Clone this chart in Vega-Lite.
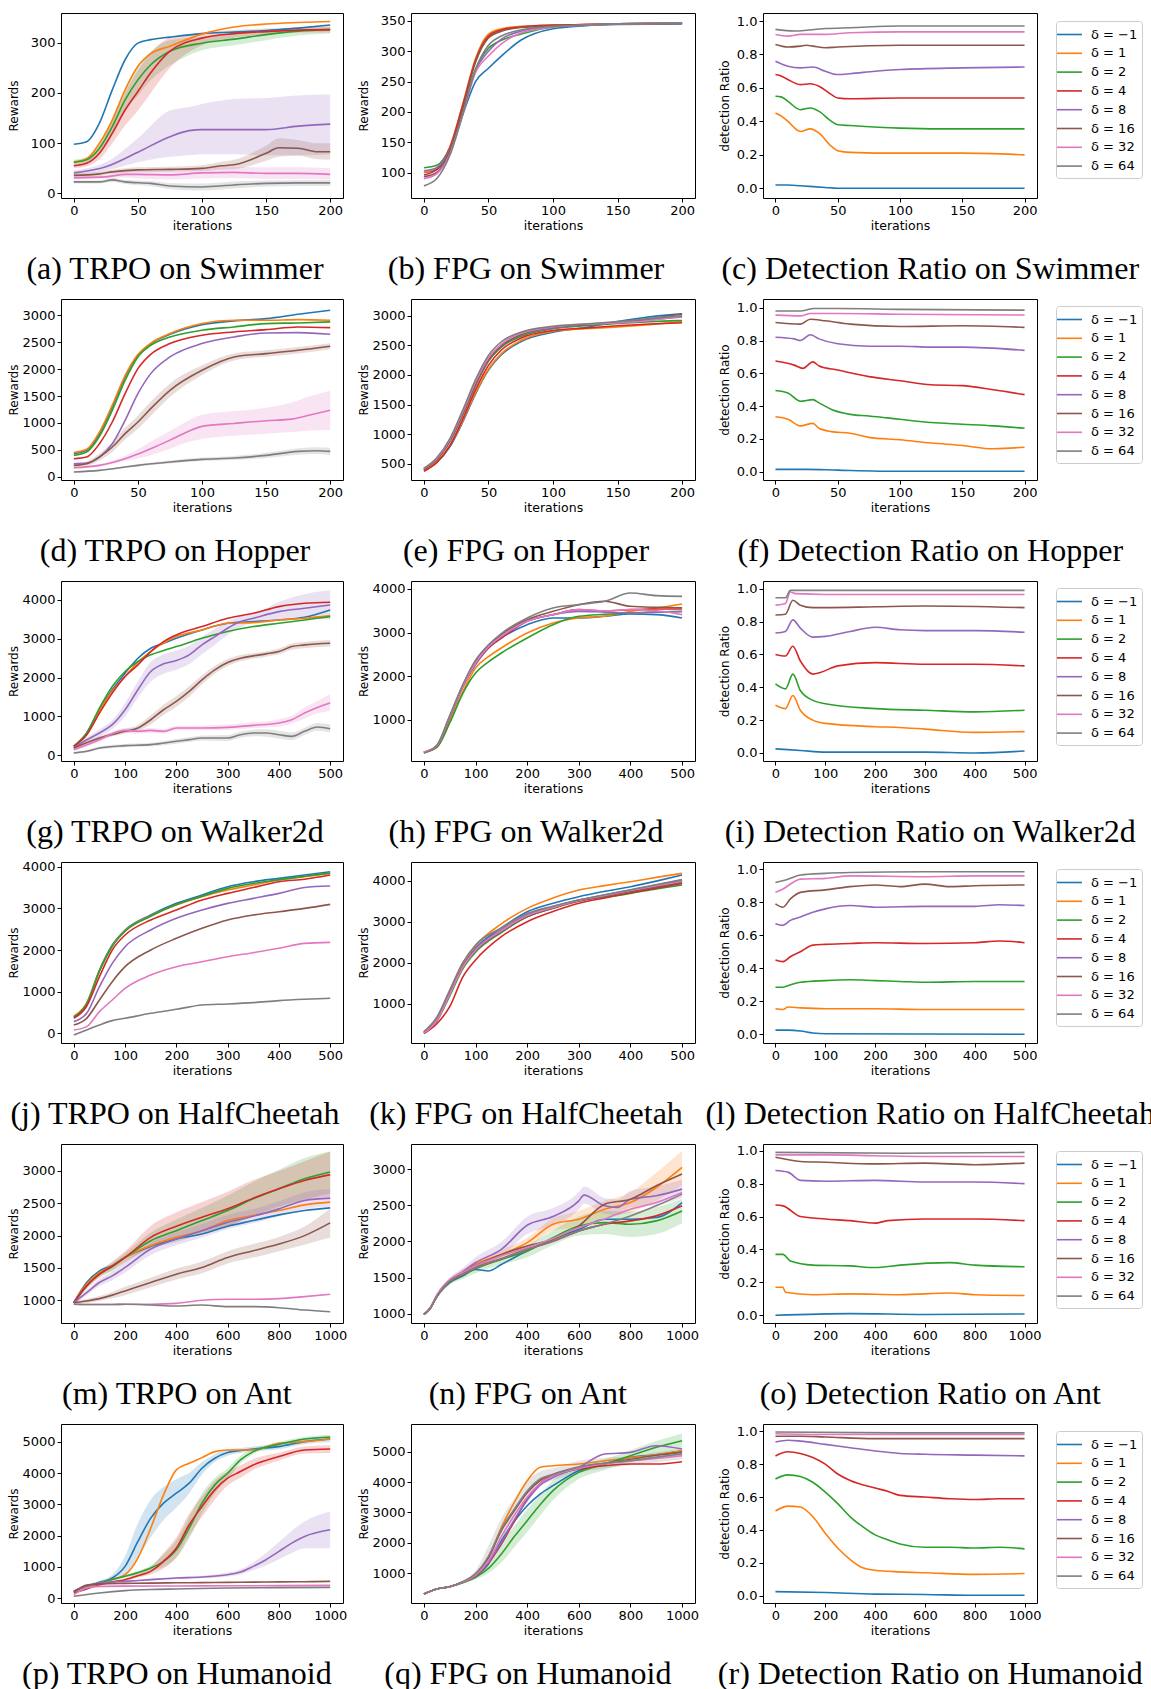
{
"$schema":"https://vega.github.io/schema/vega-lite/v6.json",
"background":"white",
"padding":{"left":6,"top":12,"right":2,"bottom":2},
"bounds":"flush",
"align":"each",
"columns":3,
"spacing":{"row":101,"column":68},
"resolve":{"scale":{"color":"independent"}},
"config":{
 "view":{"stroke":"black","strokeWidth":1},
 "font":"DejaVu Sans",
 "numberFormat":"d",
 "axis":{"grid":false,"domain":false,"ticks":true,"tickColor":"black","tickSize":4,"tickWidth":1,"labelFont":"DejaVu Sans","labelFontSize":13,"labelColor":"black","labelPadding":2,"titleFont":"DejaVu Sans","titleFontWeight":"normal","titleColor":"black","labelFlush":false,"labelOverlap":false},
 "axisY":{"titleFontSize":12,"minExtent":39,"maxExtent":39,"titlePadding":2},
 "axisX":{"titleFontSize":12.5,"titlePadding":2},
 "title":{"orient":"bottom","font":"Liberation Serif","fontSize":32,"fontWeight":"normal","color":"black","offset":22,"frame":"bounds","anchor":"middle"},
 "legend":{"labelFont":"DejaVu Sans","labelFontSize":13,"labelColor":"black","symbolType":"M-1.5,0H1.5","symbolSize":278,"symbolStrokeWidth":2,"labelOffset":12,"rowPadding":1.8,"padding":4,"strokeColor":"#cccccc","cornerRadius":3,"fillColor":"white"},
 "range":{"category":["#1f77b4","#ff7f0e","#2ca02c","#d62728","#9467bd","#8c564b","#e377c2","#7f7f7f"]},
 "line":{"strokeWidth":1.6,"interpolate":"monotone"},
 "area":{"opacity":0.2,"interpolate":"monotone"}
},
"datasets":{
"a":[
{"s":-1,"x":0,"y":98},{"s":-1,"x":10,"y":103},{"s":-1,"x":20,"y":140},{"s":-1,"x":30,"y":206},{"s":-1,"x":40,"y":266},{"s":-1,"x":50,"y":299},{"s":-1,"x":60,"y":306},{"s":-1,"x":75,"y":311},{"s":-1,"x":100,"y":318},{"s":-1,"x":125,"y":321},{"s":-1,"x":150,"y":324},{"s":-1,"x":175,"y":329},{"s":-1,"x":200,"y":335},
{"s":1,"x":0,"y":63},{"s":1,"x":10,"y":69},{"s":1,"x":20,"y":100},{"s":1,"x":30,"y":146},{"s":1,"x":40,"y":206},{"s":1,"x":50,"y":253},{"s":1,"x":60,"y":278},{"s":1,"x":75,"y":293},{"s":1,"x":100,"y":317},{"s":1,"x":125,"y":331},{"s":1,"x":150,"y":337},{"s":1,"x":175,"y":340},{"s":1,"x":200,"y":342},
{"s":2,"x":0,"y":62,"l":57,"h":67},{"s":2,"x":10,"y":67,"l":61,"h":73},{"s":2,"x":20,"y":90,"l":80,"h":100},{"s":2,"x":30,"y":133,"l":115,"h":150},{"s":2,"x":40,"y":186,"l":165,"h":210},{"s":2,"x":50,"y":226,"l":195,"h":255},{"s":2,"x":60,"y":256,"l":225,"h":283},{"s":2,"x":75,"y":283,"l":255,"h":305},{"s":2,"x":100,"y":299,"l":285,"h":312},{"s":2,"x":125,"y":307,"l":295,"h":318},{"s":2,"x":150,"y":316,"l":305,"h":325},{"s":2,"x":175,"y":323,"l":314,"h":330},{"s":2,"x":200,"y":326,"l":318,"h":333},
{"s":4,"x":0,"y":55,"l":50,"h":60},{"s":4,"x":10,"y":60,"l":54,"h":66},{"s":4,"x":20,"y":80,"l":68,"h":95},{"s":4,"x":30,"y":120,"l":100,"h":145},{"s":4,"x":40,"y":166,"l":135,"h":200},{"s":4,"x":50,"y":203,"l":165,"h":245},{"s":4,"x":60,"y":240,"l":200,"h":280},{"s":4,"x":75,"y":283,"l":250,"h":310},{"s":4,"x":100,"y":309,"l":295,"h":320},{"s":4,"x":125,"y":318,"l":310,"h":325},{"s":4,"x":150,"y":322,"l":316,"h":328},{"s":4,"x":175,"y":325,"l":320,"h":330},{"s":4,"x":200,"y":326,"l":320,"h":331},
{"s":8,"x":0,"y":41,"l":36,"h":46},{"s":8,"x":25,"y":53,"l":45,"h":62},{"s":8,"x":50,"y":82,"l":62,"h":110},{"s":8,"x":75,"y":113,"l":73,"h":165},{"s":8,"x":90,"y":125,"l":76,"h":172},{"s":8,"x":100,"y":127,"l":78,"h":178},{"s":8,"x":125,"y":127,"l":78,"h":188},{"s":8,"x":150,"y":127,"l":76,"h":190},{"s":8,"x":175,"y":134,"l":76,"h":195},{"s":8,"x":200,"y":138,"l":78,"h":197},
{"s":16,"x":0,"y":36,"l":32,"h":40},{"s":16,"x":20,"y":39,"l":35,"h":43},{"s":16,"x":30,"y":43,"l":39,"h":47},{"s":16,"x":50,"y":47,"l":42,"h":52},{"s":16,"x":75,"y":48,"l":43,"h":53},{"s":16,"x":100,"y":50,"l":44,"h":56},{"s":16,"x":115,"y":55,"l":47,"h":63},{"s":16,"x":125,"y":57,"l":48,"h":67},{"s":16,"x":150,"y":80,"l":65,"h":95},{"s":16,"x":160,"y":91,"l":73,"h":110},{"s":16,"x":175,"y":90,"l":75,"h":106},{"s":16,"x":190,"y":83,"l":68,"h":100},{"s":16,"x":200,"y":83,"l":67,"h":100},
{"s":32,"x":0,"y":31,"l":28,"h":34},{"s":32,"x":25,"y":33,"l":30,"h":37},{"s":32,"x":40,"y":38,"l":32,"h":45},{"s":32,"x":50,"y":38,"l":30,"h":48},{"s":32,"x":75,"y":37,"l":28,"h":48},{"s":32,"x":100,"y":41,"l":30,"h":52},{"s":32,"x":125,"y":42,"l":31,"h":53},{"s":32,"x":150,"y":40,"l":29,"h":52},{"s":32,"x":175,"y":40,"l":29,"h":52},{"s":32,"x":200,"y":38,"l":28,"h":50},
{"s":64,"x":0,"y":23,"l":20,"h":26},{"s":64,"x":20,"y":23,"l":20,"h":26},{"s":64,"x":30,"y":27,"l":23,"h":31},{"s":64,"x":40,"y":23,"l":19,"h":27},{"s":64,"x":60,"y":20,"l":15,"h":25},{"s":64,"x":75,"y":15,"l":9,"h":21},{"s":64,"x":100,"y":13,"l":6,"h":20},{"s":64,"x":125,"y":17,"l":10,"h":24},{"s":64,"x":150,"y":20,"l":14,"h":26},{"s":64,"x":175,"y":21,"l":15,"h":27},{"s":64,"x":200,"y":21,"l":15,"h":27}
],
"b":[
{"s":-1,"x":0,"y":100},{"s":-1,"x":10,"y":105},{"s":-1,"x":20,"y":135},{"s":-1,"x":30,"y":195},{"s":-1,"x":40,"y":250},{"s":-1,"x":50,"y":272},{"s":-1,"x":60,"y":292},{"s":-1,"x":75,"y":318},{"s":-1,"x":100,"y":337},{"s":-1,"x":125,"y":342},{"s":-1,"x":150,"y":344},{"s":-1,"x":200,"y":345},
{"s":1,"x":0,"y":100},{"s":1,"x":10,"y":108},{"s":1,"x":20,"y":142},{"s":1,"x":30,"y":212},{"s":1,"x":40,"y":288},{"s":1,"x":50,"y":328},{"s":1,"x":60,"y":337},{"s":1,"x":75,"y":341},{"s":1,"x":100,"y":343},{"s":1,"x":125,"y":344},{"s":1,"x":150,"y":345},{"s":1,"x":200,"y":347},
{"s":2,"x":0,"y":108},{"s":2,"x":10,"y":112},{"s":2,"x":20,"y":140},{"s":2,"x":30,"y":200},{"s":2,"x":40,"y":270},{"s":2,"x":50,"y":305},{"s":2,"x":60,"y":318},{"s":2,"x":75,"y":328},{"s":2,"x":100,"y":340},{"s":2,"x":125,"y":343},{"s":2,"x":150,"y":345},{"s":2,"x":200,"y":346},
{"s":4,"x":0,"y":96},{"s":4,"x":10,"y":105},{"s":4,"x":20,"y":140},{"s":4,"x":30,"y":210},{"s":4,"x":40,"y":285},{"s":4,"x":50,"y":325},{"s":4,"x":60,"y":335},{"s":4,"x":75,"y":340},{"s":4,"x":100,"y":343},{"s":4,"x":125,"y":344},{"s":4,"x":150,"y":345},{"s":4,"x":200,"y":346},
{"s":8,"x":0,"y":103},{"s":8,"x":10,"y":108},{"s":8,"x":20,"y":138},{"s":8,"x":30,"y":200},{"s":8,"x":40,"y":268},{"s":8,"x":50,"y":300},{"s":8,"x":60,"y":320},{"s":8,"x":75,"y":333},{"s":8,"x":100,"y":341},{"s":8,"x":125,"y":343},{"s":8,"x":150,"y":345},{"s":8,"x":200,"y":346},
{"s":16,"x":0,"y":93},{"s":16,"x":10,"y":100},{"s":16,"x":20,"y":135},{"s":16,"x":30,"y":205},{"s":16,"x":40,"y":282},{"s":16,"x":50,"y":322},{"s":16,"x":60,"y":333},{"s":16,"x":75,"y":339},{"s":16,"x":100,"y":342},{"s":16,"x":125,"y":344},{"s":16,"x":150,"y":345},{"s":16,"x":200,"y":346},
{"s":32,"x":0,"y":90},{"s":32,"x":10,"y":98},{"s":32,"x":20,"y":130},{"s":32,"x":30,"y":195},{"s":32,"x":40,"y":265},{"s":32,"x":50,"y":292},{"s":32,"x":60,"y":312},{"s":32,"x":75,"y":330},{"s":32,"x":100,"y":340},{"s":32,"x":125,"y":343},{"s":32,"x":150,"y":345},{"s":32,"x":200,"y":346},
{"s":64,"x":0,"y":78},{"s":64,"x":10,"y":90},{"s":64,"x":20,"y":128},{"s":64,"x":30,"y":195},{"s":64,"x":40,"y":270},{"s":64,"x":50,"y":310},{"s":64,"x":60,"y":325},{"s":64,"x":75,"y":335},{"s":64,"x":100,"y":341},{"s":64,"x":125,"y":343},{"s":64,"x":150,"y":345},{"s":64,"x":200,"y":346}
],
"c":[
{"s":-1,"x":0,"y":0.02},{"s":-1,"x":10,"y":0.02},{"s":-1,"x":20,"y":0.015},{"s":-1,"x":40,"y":0.005},{"s":-1,"x":50,"y":0},{"s":-1,"x":100,"y":0},{"s":-1,"x":200,"y":0},
{"s":1,"x":0,"y":0.45},{"s":1,"x":5,"y":0.43},{"s":1,"x":10,"y":0.4},{"s":1,"x":20,"y":0.34},{"s":1,"x":28,"y":0.355},{"s":1,"x":35,"y":0.33},{"s":1,"x":45,"y":0.25},{"s":1,"x":50,"y":0.225},{"s":1,"x":60,"y":0.215},{"s":1,"x":100,"y":0.21},{"s":1,"x":150,"y":0.21},{"s":1,"x":200,"y":0.2},
{"s":2,"x":0,"y":0.55},{"s":2,"x":5,"y":0.545},{"s":2,"x":10,"y":0.52},{"s":2,"x":20,"y":0.47},{"s":2,"x":28,"y":0.48},{"s":2,"x":35,"y":0.46},{"s":2,"x":45,"y":0.4},{"s":2,"x":50,"y":0.38},{"s":2,"x":60,"y":0.375},{"s":2,"x":100,"y":0.36},{"s":2,"x":150,"y":0.355},{"s":2,"x":200,"y":0.355},
{"s":4,"x":0,"y":0.68},{"s":4,"x":5,"y":0.67},{"s":4,"x":10,"y":0.65},{"s":4,"x":20,"y":0.62},{"s":4,"x":28,"y":0.625},{"s":4,"x":35,"y":0.61},{"s":4,"x":45,"y":0.56},{"s":4,"x":50,"y":0.54},{"s":4,"x":60,"y":0.535},{"s":4,"x":100,"y":0.54},{"s":4,"x":150,"y":0.54},{"s":4,"x":200,"y":0.54},
{"s":8,"x":0,"y":0.76},{"s":8,"x":10,"y":0.73},{"s":8,"x":20,"y":0.72},{"s":8,"x":30,"y":0.725},{"s":8,"x":40,"y":0.7},{"s":8,"x":50,"y":0.68},{"s":8,"x":60,"y":0.685},{"s":8,"x":80,"y":0.7},{"s":8,"x":100,"y":0.71},{"s":8,"x":150,"y":0.72},{"s":8,"x":200,"y":0.725},
{"s":16,"x":0,"y":0.86},{"s":16,"x":10,"y":0.845},{"s":16,"x":20,"y":0.85},{"s":16,"x":25,"y":0.855},{"s":16,"x":30,"y":0.85},{"s":16,"x":40,"y":0.84},{"s":16,"x":50,"y":0.845},{"s":16,"x":100,"y":0.855},{"s":16,"x":200,"y":0.855},
{"s":32,"x":0,"y":0.92},{"s":32,"x":10,"y":0.91},{"s":32,"x":20,"y":0.92},{"s":32,"x":40,"y":0.92},{"s":32,"x":60,"y":0.93},{"s":32,"x":100,"y":0.935},{"s":32,"x":200,"y":0.935},
{"s":64,"x":0,"y":0.95},{"s":64,"x":15,"y":0.94},{"s":64,"x":40,"y":0.955},{"s":64,"x":60,"y":0.96},{"s":64,"x":100,"y":0.97},{"s":64,"x":200,"y":0.97}
],
"d":[
{"s":-1,"x":0,"y":430},{"s":-1,"x":10,"y":490},{"s":-1,"x":20,"y":800},{"s":-1,"x":30,"y":1296},{"s":-1,"x":40,"y":1854},{"s":-1,"x":50,"y":2257},{"s":-1,"x":60,"y":2474},{"s":-1,"x":75,"y":2647},{"s":-1,"x":100,"y":2827},{"s":-1,"x":125,"y":2895},{"s":-1,"x":150,"y":2939},{"s":-1,"x":175,"y":3019},{"s":-1,"x":200,"y":3094},
{"s":1,"x":0,"y":450},{"s":1,"x":10,"y":510},{"s":1,"x":20,"y":830},{"s":1,"x":30,"y":1330},{"s":1,"x":40,"y":1880},{"s":1,"x":50,"y":2270},{"s":1,"x":60,"y":2480},{"s":1,"x":75,"y":2660},{"s":1,"x":100,"y":2846},{"s":1,"x":125,"y":2908},{"s":1,"x":150,"y":2908},{"s":1,"x":175,"y":2920},{"s":1,"x":200,"y":2908},
{"s":2,"x":0,"y":397},{"s":2,"x":10,"y":460},{"s":2,"x":20,"y":750},{"s":2,"x":30,"y":1234},{"s":2,"x":40,"y":1792},{"s":2,"x":50,"y":2226},{"s":2,"x":60,"y":2443},{"s":2,"x":75,"y":2598},{"s":2,"x":100,"y":2722},{"s":2,"x":125,"y":2784},{"s":2,"x":150,"y":2846},{"s":2,"x":175,"y":2858},{"s":2,"x":200,"y":2877},
{"s":4,"x":0,"y":335},{"s":4,"x":10,"y":366},{"s":4,"x":20,"y":614},{"s":4,"x":30,"y":1017},{"s":4,"x":40,"y":1544},{"s":4,"x":50,"y":2009},{"s":4,"x":60,"y":2275},{"s":4,"x":75,"y":2474},{"s":4,"x":100,"y":2629},{"s":4,"x":125,"y":2691},{"s":4,"x":150,"y":2734},{"s":4,"x":175,"y":2784},{"s":4,"x":200,"y":2771},
{"s":8,"x":0,"y":242},{"s":8,"x":10,"y":254},{"s":8,"x":20,"y":366},{"s":8,"x":30,"y":614},{"s":8,"x":40,"y":1048},{"s":8,"x":50,"y":1544},{"s":8,"x":60,"y":1916},{"s":8,"x":75,"y":2226},{"s":8,"x":100,"y":2474},{"s":8,"x":125,"y":2598},{"s":8,"x":150,"y":2672},{"s":8,"x":175,"y":2678},{"s":8,"x":200,"y":2647},
{"s":16,"x":0,"y":211,"l":180,"h":240},{"s":16,"x":10,"y":242,"l":200,"h":285},{"s":16,"x":20,"y":366,"l":300,"h":430},{"s":16,"x":30,"y":552,"l":460,"h":640},{"s":16,"x":40,"y":800,"l":690,"h":910},{"s":16,"x":50,"y":1017,"l":890,"h":1140},{"s":16,"x":60,"y":1265,"l":1130,"h":1400},{"s":16,"x":75,"y":1606,"l":1480,"h":1730},{"s":16,"x":100,"y":1978,"l":1890,"h":2070},{"s":16,"x":125,"y":2226,"l":2160,"h":2290},{"s":16,"x":150,"y":2288,"l":2230,"h":2350},{"s":16,"x":175,"y":2350,"l":2290,"h":2410},{"s":16,"x":200,"y":2424,"l":2370,"h":2480},
{"s":32,"x":0,"y":167,"l":150,"h":185},{"s":32,"x":20,"y":211,"l":190,"h":235},{"s":32,"x":40,"y":335,"l":290,"h":390},{"s":32,"x":50,"y":420,"l":340,"h":510},{"s":32,"x":60,"y":520,"l":400,"h":650},{"s":32,"x":75,"y":680,"l":520,"h":850},{"s":32,"x":90,"y":850,"l":650,"h":1050},{"s":32,"x":100,"y":936,"l":700,"h":1150},{"s":32,"x":125,"y":990,"l":760,"h":1220},{"s":32,"x":150,"y":1040,"l":800,"h":1280},{"s":32,"x":170,"y":1070,"l":830,"h":1380},{"s":32,"x":185,"y":1150,"l":860,"h":1500},{"s":32,"x":200,"y":1234,"l":870,"h":1600},
{"s":64,"x":0,"y":87,"l":75,"h":100},{"s":64,"x":20,"y":118,"l":105,"h":130},{"s":64,"x":40,"y":180,"l":160,"h":200},{"s":64,"x":50,"y":211,"l":190,"h":232},{"s":64,"x":75,"y":273,"l":245,"h":300},{"s":64,"x":100,"y":322,"l":290,"h":355},{"s":64,"x":125,"y":347,"l":310,"h":385},{"s":64,"x":150,"y":397,"l":350,"h":445},{"s":64,"x":175,"y":471,"l":410,"h":530},{"s":64,"x":190,"y":484,"l":420,"h":550},{"s":64,"x":200,"y":471,"l":400,"h":540}
],
"e":[
{"s":-1,"x":0,"y":380},{"s":-1,"x":10,"y":520},{"s":-1,"x":20,"y":780},{"s":-1,"x":30,"y":1200},{"s":-1,"x":40,"y":1680},{"s":-1,"x":50,"y":2080},{"s":-1,"x":60,"y":2340},{"s":-1,"x":75,"y":2560},{"s":-1,"x":100,"y":2720},{"s":-1,"x":125,"y":2800},{"s":-1,"x":150,"y":2900},{"s":-1,"x":175,"y":2980},{"s":-1,"x":200,"y":3030},
{"s":1,"x":0,"y":390},{"s":1,"x":10,"y":530},{"s":1,"x":20,"y":800},{"s":1,"x":30,"y":1220},{"s":1,"x":40,"y":1700},{"s":1,"x":50,"y":2100},{"s":1,"x":60,"y":2360},{"s":1,"x":75,"y":2580},{"s":1,"x":100,"y":2740},{"s":1,"x":125,"y":2780},{"s":1,"x":150,"y":2810},{"s":1,"x":175,"y":2850},{"s":1,"x":200,"y":2900},
{"s":2,"x":0,"y":410},{"s":2,"x":10,"y":570},{"s":2,"x":20,"y":870},{"s":2,"x":30,"y":1320},{"s":2,"x":40,"y":1820},{"s":2,"x":50,"y":2230},{"s":2,"x":60,"y":2470},{"s":2,"x":75,"y":2650},{"s":2,"x":100,"y":2780},{"s":2,"x":125,"y":2830},{"s":2,"x":150,"y":2870},{"s":2,"x":175,"y":2900},{"s":2,"x":200,"y":2920},
{"s":4,"x":0,"y":370},{"s":4,"x":10,"y":520},{"s":4,"x":20,"y":800},{"s":4,"x":30,"y":1250},{"s":4,"x":40,"y":1750},{"s":4,"x":50,"y":2160},{"s":4,"x":60,"y":2420},{"s":4,"x":75,"y":2620},{"s":4,"x":100,"y":2750},{"s":4,"x":125,"y":2790},{"s":4,"x":150,"y":2830},{"s":4,"x":175,"y":2860},{"s":4,"x":200,"y":2880},
{"s":8,"x":0,"y":410},{"s":8,"x":10,"y":580},{"s":8,"x":20,"y":880},{"s":8,"x":30,"y":1340},{"s":8,"x":40,"y":1840},{"s":8,"x":50,"y":2250},{"s":8,"x":60,"y":2490},{"s":8,"x":75,"y":2680},{"s":8,"x":100,"y":2790},{"s":8,"x":125,"y":2850},{"s":8,"x":150,"y":2880},{"s":8,"x":175,"y":2930},{"s":8,"x":200,"y":2980},
{"s":16,"x":0,"y":400},{"s":16,"x":10,"y":570},{"s":16,"x":20,"y":880},{"s":16,"x":30,"y":1340},{"s":16,"x":40,"y":1850},{"s":16,"x":50,"y":2250},{"s":16,"x":60,"y":2490},{"s":16,"x":75,"y":2680},{"s":16,"x":100,"y":2800},{"s":16,"x":125,"y":2850},{"s":16,"x":150,"y":2890},{"s":16,"x":175,"y":2950},{"s":16,"x":200,"y":3030},
{"s":32,"x":0,"y":420},{"s":32,"x":10,"y":590},{"s":32,"x":20,"y":900},{"s":32,"x":30,"y":1370},{"s":32,"x":40,"y":1880},{"s":32,"x":50,"y":2290},{"s":32,"x":60,"y":2520},{"s":32,"x":75,"y":2700},{"s":32,"x":100,"y":2810},{"s":32,"x":125,"y":2860},{"s":32,"x":150,"y":2880},{"s":32,"x":175,"y":2920},{"s":32,"x":200,"y":2990},
{"s":64,"x":0,"y":420},{"s":64,"x":10,"y":600},{"s":64,"x":20,"y":920},{"s":64,"x":30,"y":1400},{"s":64,"x":40,"y":1920},{"s":64,"x":50,"y":2330},{"s":64,"x":60,"y":2560},{"s":64,"x":75,"y":2720},{"s":64,"x":100,"y":2820},{"s":64,"x":125,"y":2860},{"s":64,"x":150,"y":2900},{"s":64,"x":175,"y":2950},{"s":64,"x":200,"y":3000}
],
"f":[
{"s":-1,"x":0,"y":0.015},{"s":-1,"x":25,"y":0.015},{"s":-1,"x":50,"y":0.01},{"s":-1,"x":100,"y":0.003},{"s":-1,"x":200,"y":0.003},
{"s":1,"x":0,"y":0.335},{"s":1,"x":10,"y":0.32},{"s":1,"x":20,"y":0.28},{"s":1,"x":30,"y":0.295},{"s":1,"x":35,"y":0.265},{"s":1,"x":45,"y":0.245},{"s":1,"x":60,"y":0.235},{"s":1,"x":75,"y":0.21},{"s":1,"x":100,"y":0.195},{"s":1,"x":125,"y":0.175},{"s":1,"x":150,"y":0.16},{"s":1,"x":175,"y":0.14},{"s":1,"x":200,"y":0.15},
{"s":2,"x":0,"y":0.495},{"s":2,"x":10,"y":0.48},{"s":2,"x":20,"y":0.43},{"s":2,"x":30,"y":0.44},{"s":2,"x":35,"y":0.42},{"s":2,"x":45,"y":0.38},{"s":2,"x":60,"y":0.35},{"s":2,"x":75,"y":0.34},{"s":2,"x":100,"y":0.32},{"s":2,"x":125,"y":0.3},{"s":2,"x":150,"y":0.29},{"s":2,"x":175,"y":0.28},{"s":2,"x":200,"y":0.265},
{"s":4,"x":0,"y":0.675},{"s":4,"x":15,"y":0.65},{"s":4,"x":22,"y":0.63},{"s":4,"x":30,"y":0.67},{"s":4,"x":35,"y":0.645},{"s":4,"x":50,"y":0.62},{"s":4,"x":75,"y":0.58},{"s":4,"x":100,"y":0.555},{"s":4,"x":125,"y":0.53},{"s":4,"x":150,"y":0.525},{"s":4,"x":175,"y":0.5},{"s":4,"x":200,"y":0.47},
{"s":8,"x":0,"y":0.82},{"s":8,"x":15,"y":0.81},{"s":8,"x":20,"y":0.8},{"s":8,"x":28,"y":0.835},{"s":8,"x":35,"y":0.81},{"s":8,"x":50,"y":0.78},{"s":8,"x":75,"y":0.765},{"s":8,"x":100,"y":0.765},{"s":8,"x":125,"y":0.76},{"s":8,"x":150,"y":0.76},{"s":8,"x":200,"y":0.74},
{"s":16,"x":0,"y":0.91},{"s":16,"x":20,"y":0.9},{"s":16,"x":28,"y":0.93},{"s":16,"x":40,"y":0.92},{"s":16,"x":60,"y":0.9},{"s":16,"x":100,"y":0.885},{"s":16,"x":150,"y":0.89},{"s":16,"x":200,"y":0.88},
{"s":32,"x":0,"y":0.955},{"s":32,"x":20,"y":0.95},{"s":32,"x":28,"y":0.965},{"s":32,"x":50,"y":0.965},{"s":32,"x":100,"y":0.96},{"s":32,"x":200,"y":0.955},
{"s":64,"x":0,"y":0.98},{"s":64,"x":20,"y":0.98},{"s":64,"x":27,"y":0.99},{"s":64,"x":30,"y":0.995},{"s":64,"x":50,"y":0.995},{"s":64,"x":100,"y":0.99},{"s":64,"x":200,"y":0.985}
],
"g":[
{"s":-1,"x":0,"y":231},{"s":-1,"x":25,"y":574},{"s":-1,"x":50,"y":1173},{"s":-1,"x":75,"y":1687},{"s":-1,"x":100,"y":2116},{"s":-1,"x":125,"y":2500},{"s":-1,"x":150,"y":2758},{"s":-1,"x":175,"y":2886},{"s":-1,"x":200,"y":3015},{"s":-1,"x":250,"y":3229},{"s":-1,"x":300,"y":3400},{"s":-1,"x":350,"y":3443},{"s":-1,"x":400,"y":3486},{"s":-1,"x":450,"y":3554},{"s":-1,"x":500,"y":3743},
{"s":1,"x":0,"y":231},{"s":1,"x":25,"y":560},{"s":1,"x":50,"y":1150},{"s":1,"x":75,"y":1650},{"s":1,"x":100,"y":2030},{"s":1,"x":125,"y":2400},{"s":1,"x":150,"y":2672},{"s":1,"x":175,"y":2900},{"s":1,"x":200,"y":3058},{"s":1,"x":250,"y":3229},{"s":1,"x":300,"y":3400},{"s":1,"x":350,"y":3417},{"s":1,"x":400,"y":3486},{"s":1,"x":450,"y":3529},{"s":1,"x":500,"y":3597},
{"s":2,"x":0,"y":231},{"s":2,"x":25,"y":570},{"s":2,"x":50,"y":1216},{"s":2,"x":75,"y":1773},{"s":2,"x":100,"y":2158},{"s":2,"x":125,"y":2415},{"s":2,"x":150,"y":2587},{"s":2,"x":175,"y":2700},{"s":2,"x":200,"y":2800},{"s":2,"x":250,"y":3015},{"s":2,"x":300,"y":3186},{"s":2,"x":350,"y":3315},{"s":2,"x":400,"y":3400},{"s":2,"x":450,"y":3486},{"s":2,"x":500,"y":3572},
{"s":4,"x":0,"y":231},{"s":4,"x":25,"y":520},{"s":4,"x":50,"y":1088},{"s":4,"x":75,"y":1602},{"s":4,"x":100,"y":2030},{"s":4,"x":125,"y":2330},{"s":4,"x":150,"y":2672},{"s":4,"x":175,"y":2929},{"s":4,"x":200,"y":3100},{"s":4,"x":250,"y":3315},{"s":4,"x":300,"y":3529},{"s":4,"x":350,"y":3657},{"s":4,"x":400,"y":3829},{"s":4,"x":450,"y":3914},{"s":4,"x":500,"y":3940},
{"s":8,"x":0,"y":188,"l":150,"h":230},{"s":8,"x":25,"y":400,"l":340,"h":460},{"s":8,"x":50,"y":574,"l":480,"h":670},{"s":8,"x":75,"y":788,"l":680,"h":900},{"s":8,"x":100,"y":1173,"l":1000,"h":1350},{"s":8,"x":125,"y":1687,"l":1480,"h":1900},{"s":8,"x":150,"y":2158,"l":1900,"h":2400},{"s":8,"x":175,"y":2355,"l":2100,"h":2600},{"s":8,"x":200,"y":2441,"l":2200,"h":2700},{"s":8,"x":225,"y":2587,"l":2350,"h":2820},{"s":8,"x":250,"y":2844,"l":2600,"h":3050},{"s":8,"x":275,"y":3058,"l":2850,"h":3260},{"s":8,"x":300,"y":3272,"l":3100,"h":3450},{"s":8,"x":325,"y":3443,"l":3300,"h":3580},{"s":8,"x":350,"y":3529,"l":3420,"h":3640},{"s":8,"x":400,"y":3700,"l":3500,"h":3950},{"s":8,"x":450,"y":3786,"l":3520,"h":4150},{"s":8,"x":500,"y":3871,"l":3490,"h":4250},
{"s":16,"x":0,"y":188,"l":150,"h":230},{"s":16,"x":50,"y":445,"l":400,"h":490},{"s":16,"x":100,"y":617,"l":560,"h":680},{"s":16,"x":125,"y":702,"l":630,"h":780},{"s":16,"x":150,"y":916,"l":800,"h":1030},{"s":16,"x":175,"y":1173,"l":1040,"h":1300},{"s":16,"x":200,"y":1388,"l":1250,"h":1530},{"s":16,"x":225,"y":1644,"l":1510,"h":1780},{"s":16,"x":250,"y":1944,"l":1830,"h":2060},{"s":16,"x":275,"y":2201,"l":2100,"h":2300},{"s":16,"x":300,"y":2390,"l":2300,"h":2480},{"s":16,"x":325,"y":2500,"l":2420,"h":2580},{"s":16,"x":350,"y":2561,"l":2490,"h":2630},{"s":16,"x":375,"y":2612,"l":2540,"h":2680},{"s":16,"x":400,"y":2672,"l":2600,"h":2750},{"s":16,"x":425,"y":2800,"l":2720,"h":2880},{"s":16,"x":450,"y":2844,"l":2760,"h":2920},{"s":16,"x":500,"y":2886,"l":2800,"h":2970},
{"s":32,"x":0,"y":146,"l":110,"h":180},{"s":32,"x":50,"y":403,"l":350,"h":450},{"s":32,"x":75,"y":557,"l":500,"h":610},{"s":32,"x":100,"y":642,"l":580,"h":700},{"s":32,"x":125,"y":617,"l":560,"h":680},{"s":32,"x":150,"y":642,"l":580,"h":700},{"s":32,"x":175,"y":617,"l":560,"h":680},{"s":32,"x":200,"y":702,"l":640,"h":760},{"s":32,"x":250,"y":702,"l":640,"h":770},{"s":32,"x":300,"y":719,"l":650,"h":790},{"s":32,"x":350,"y":771,"l":700,"h":850},{"s":32,"x":400,"y":831,"l":740,"h":930},{"s":32,"x":425,"y":916,"l":820,"h":1020},{"s":32,"x":450,"y":1088,"l":950,"h":1230},{"s":32,"x":475,"y":1233,"l":1080,"h":1400},{"s":32,"x":500,"y":1345,"l":1150,"h":1580},
{"s":64,"x":0,"y":60,"l":30,"h":90},{"s":64,"x":25,"y":103,"l":70,"h":135},{"s":64,"x":50,"y":188,"l":150,"h":225},{"s":64,"x":100,"y":248,"l":210,"h":290},{"s":64,"x":150,"y":274,"l":230,"h":320},{"s":64,"x":200,"y":360,"l":300,"h":420},{"s":64,"x":225,"y":403,"l":340,"h":465},{"s":64,"x":250,"y":445,"l":380,"h":510},{"s":64,"x":300,"y":445,"l":370,"h":520},{"s":64,"x":325,"y":531,"l":450,"h":610},{"s":64,"x":350,"y":574,"l":490,"h":660},{"s":64,"x":375,"y":574,"l":480,"h":670},{"s":64,"x":400,"y":531,"l":430,"h":630},{"s":64,"x":425,"y":488,"l":390,"h":590},{"s":64,"x":450,"y":617,"l":520,"h":710},{"s":64,"x":475,"y":728,"l":630,"h":830},{"s":64,"x":500,"y":685,"l":580,"h":790}
],
"h":[
{"s":-1,"x":0,"y":259},{"s":-1,"x":25,"y":400},{"s":-1,"x":50,"y":1060},{"s":-1,"x":75,"y":1760},{"s":-1,"x":100,"y":2267},{"s":-1,"x":125,"y":2650},{"s":-1,"x":150,"y":2878},{"s":-1,"x":200,"y":3183},{"s":-1,"x":250,"y":3336},{"s":-1,"x":300,"y":3336},{"s":-1,"x":350,"y":3374},{"s":-1,"x":400,"y":3427},{"s":-1,"x":450,"y":3412},{"s":-1,"x":500,"y":3336},
{"s":1,"x":0,"y":259},{"s":1,"x":25,"y":380},{"s":1,"x":50,"y":960},{"s":1,"x":75,"y":1640},{"s":1,"x":100,"y":2190},{"s":1,"x":125,"y":2450},{"s":1,"x":150,"y":2649},{"s":1,"x":200,"y":2992},{"s":1,"x":250,"y":3221},{"s":1,"x":300,"y":3336},{"s":1,"x":350,"y":3374},{"s":1,"x":400,"y":3490},{"s":1,"x":450,"y":3565},{"s":1,"x":500,"y":3656},
{"s":2,"x":0,"y":259},{"s":2,"x":25,"y":370},{"s":2,"x":50,"y":930},{"s":2,"x":75,"y":1600},{"s":2,"x":100,"y":2076},{"s":2,"x":125,"y":2330},{"s":2,"x":150,"y":2534},{"s":2,"x":200,"y":2878},{"s":2,"x":250,"y":3183},{"s":2,"x":300,"y":3374},{"s":2,"x":350,"y":3420},{"s":2,"x":400,"y":3450},{"s":2,"x":450,"y":3470},{"s":2,"x":500,"y":3490},
{"s":4,"x":0,"y":259},{"s":4,"x":25,"y":400},{"s":4,"x":50,"y":1050},{"s":4,"x":75,"y":1750},{"s":4,"x":100,"y":2290},{"s":4,"x":125,"y":2650},{"s":4,"x":150,"y":2878},{"s":4,"x":200,"y":3260},{"s":4,"x":250,"y":3412},{"s":4,"x":300,"y":3527},{"s":4,"x":350,"y":3500},{"s":4,"x":400,"y":3527},{"s":4,"x":450,"y":3540},{"s":4,"x":500,"y":3540},
{"s":8,"x":0,"y":259},{"s":8,"x":25,"y":405},{"s":8,"x":50,"y":1070},{"s":8,"x":75,"y":1770},{"s":8,"x":100,"y":2305},{"s":8,"x":125,"y":2680},{"s":8,"x":150,"y":2916},{"s":8,"x":200,"y":3260},{"s":8,"x":250,"y":3412},{"s":8,"x":300,"y":3488},{"s":8,"x":350,"y":3470},{"s":8,"x":400,"y":3450},{"s":8,"x":450,"y":3470},{"s":8,"x":500,"y":3480},
{"s":16,"x":0,"y":250},{"s":16,"x":25,"y":410},{"s":16,"x":50,"y":1080},{"s":16,"x":75,"y":1780},{"s":16,"x":100,"y":2350},{"s":16,"x":125,"y":2700},{"s":16,"x":150,"y":2960},{"s":16,"x":200,"y":3298},{"s":16,"x":250,"y":3488},{"s":16,"x":300,"y":3640},{"s":16,"x":350,"y":3718},{"s":16,"x":400,"y":3603},{"s":16,"x":450,"y":3580},{"s":16,"x":500,"y":3570},
{"s":32,"x":0,"y":259},{"s":32,"x":25,"y":405},{"s":32,"x":50,"y":1070},{"s":32,"x":75,"y":1770},{"s":32,"x":100,"y":2305},{"s":32,"x":125,"y":2680},{"s":32,"x":150,"y":2916},{"s":32,"x":200,"y":3260},{"s":32,"x":250,"y":3412},{"s":32,"x":300,"y":3527},{"s":32,"x":350,"y":3500},{"s":32,"x":400,"y":3527},{"s":32,"x":450,"y":3500},{"s":32,"x":500,"y":3412},
{"s":64,"x":0,"y":240},{"s":64,"x":25,"y":420},{"s":64,"x":50,"y":1100},{"s":64,"x":75,"y":1800},{"s":64,"x":100,"y":2370},{"s":64,"x":125,"y":2720},{"s":64,"x":150,"y":2980},{"s":64,"x":200,"y":3336},{"s":64,"x":250,"y":3565},{"s":64,"x":300,"y":3641},{"s":64,"x":350,"y":3718},{"s":64,"x":400,"y":3908},{"s":64,"x":450,"y":3847},{"s":64,"x":500,"y":3830}
],
"i":[
{"s":-1,"x":0,"y":0.025},{"s":-1,"x":50,"y":0.015},{"s":-1,"x":100,"y":0.005},{"s":-1,"x":300,"y":0.005},{"s":-1,"x":400,"y":0},{"s":-1,"x":500,"y":0.012},
{"s":1,"x":0,"y":0.29},{"s":1,"x":20,"y":0.27},{"s":1,"x":35,"y":0.35},{"s":1,"x":50,"y":0.26},{"s":1,"x":75,"y":0.2},{"s":1,"x":100,"y":0.18},{"s":1,"x":200,"y":0.16},{"s":1,"x":250,"y":0.155},{"s":1,"x":300,"y":0.145},{"s":1,"x":400,"y":0.125},{"s":1,"x":500,"y":0.13},
{"s":2,"x":0,"y":0.42},{"s":2,"x":20,"y":0.39},{"s":2,"x":35,"y":0.48},{"s":2,"x":50,"y":0.38},{"s":2,"x":75,"y":0.32},{"s":2,"x":100,"y":0.3},{"s":2,"x":200,"y":0.27},{"s":2,"x":300,"y":0.26},{"s":2,"x":400,"y":0.25},{"s":2,"x":500,"y":0.26},
{"s":4,"x":0,"y":0.6},{"s":4,"x":20,"y":0.59},{"s":4,"x":35,"y":0.65},{"s":4,"x":50,"y":0.56},{"s":4,"x":75,"y":0.48},{"s":4,"x":90,"y":0.49},{"s":4,"x":125,"y":0.53},{"s":4,"x":200,"y":0.55},{"s":4,"x":300,"y":0.54},{"s":4,"x":400,"y":0.54},{"s":4,"x":500,"y":0.53},
{"s":8,"x":0,"y":0.73},{"s":8,"x":20,"y":0.74},{"s":8,"x":35,"y":0.81},{"s":8,"x":50,"y":0.76},{"s":8,"x":75,"y":0.705},{"s":8,"x":100,"y":0.71},{"s":8,"x":150,"y":0.74},{"s":8,"x":200,"y":0.765},{"s":8,"x":250,"y":0.75},{"s":8,"x":300,"y":0.745},{"s":8,"x":400,"y":0.745},{"s":8,"x":500,"y":0.735},
{"s":16,"x":0,"y":0.84},{"s":16,"x":20,"y":0.845},{"s":16,"x":35,"y":0.93},{"s":16,"x":50,"y":0.9},{"s":16,"x":75,"y":0.885},{"s":16,"x":100,"y":0.885},{"s":16,"x":200,"y":0.89},{"s":16,"x":300,"y":0.895},{"s":16,"x":500,"y":0.885},
{"s":32,"x":0,"y":0.9},{"s":32,"x":20,"y":0.91},{"s":32,"x":30,"y":0.98},{"s":32,"x":40,"y":0.97},{"s":32,"x":100,"y":0.965},{"s":32,"x":300,"y":0.965},{"s":32,"x":500,"y":0.965},
{"s":64,"x":0,"y":0.945},{"s":64,"x":20,"y":0.945},{"s":64,"x":30,"y":0.99},{"s":64,"x":100,"y":0.99},{"s":64,"x":500,"y":0.99}
],
"j":[
{"s":-1,"x":0,"y":400},{"s":-1,"x":25,"y":720},{"s":-1,"x":50,"y":1520},{"s":-1,"x":75,"y":2120},{"s":-1,"x":100,"y":2480},{"s":-1,"x":150,"y":2840},{"s":-1,"x":200,"y":3120},{"s":-1,"x":250,"y":3320},{"s":-1,"x":300,"y":3520},{"s":-1,"x":350,"y":3640},{"s":-1,"x":400,"y":3720},{"s":-1,"x":450,"y":3800},{"s":-1,"x":500,"y":3880},
{"s":1,"x":0,"y":410},{"s":1,"x":25,"y":720},{"s":1,"x":50,"y":1500},{"s":1,"x":75,"y":2100},{"s":1,"x":100,"y":2460},{"s":1,"x":150,"y":2820},{"s":1,"x":200,"y":3080},{"s":1,"x":250,"y":3280},{"s":1,"x":300,"y":3440},{"s":1,"x":350,"y":3560},{"s":1,"x":400,"y":3680},{"s":1,"x":450,"y":3760},{"s":1,"x":500,"y":3840},
{"s":2,"x":0,"y":390},{"s":2,"x":25,"y":700},{"s":2,"x":50,"y":1490},{"s":2,"x":75,"y":2090},{"s":2,"x":100,"y":2450},{"s":2,"x":150,"y":2810},{"s":2,"x":200,"y":3090},{"s":2,"x":250,"y":3290},{"s":2,"x":300,"y":3480},{"s":2,"x":350,"y":3600},{"s":2,"x":400,"y":3690},{"s":2,"x":450,"y":3770},{"s":2,"x":500,"y":3850},
{"s":4,"x":0,"y":360},{"s":4,"x":25,"y":650},{"s":4,"x":50,"y":1360},{"s":4,"x":75,"y":2000},{"s":4,"x":100,"y":2360},{"s":4,"x":150,"y":2720},{"s":4,"x":200,"y":2960},{"s":4,"x":250,"y":3200},{"s":4,"x":300,"y":3360},{"s":4,"x":350,"y":3500},{"s":4,"x":400,"y":3640},{"s":4,"x":450,"y":3700},{"s":4,"x":500,"y":3800},
{"s":8,"x":0,"y":280},{"s":8,"x":25,"y":480},{"s":8,"x":50,"y":1120},{"s":8,"x":75,"y":1680},{"s":8,"x":100,"y":2080},{"s":8,"x":150,"y":2480},{"s":8,"x":200,"y":2760},{"s":8,"x":250,"y":2960},{"s":8,"x":300,"y":3120},{"s":8,"x":350,"y":3240},{"s":8,"x":400,"y":3360},{"s":8,"x":450,"y":3500},{"s":8,"x":500,"y":3536},
{"s":16,"x":0,"y":200},{"s":16,"x":25,"y":360},{"s":16,"x":50,"y":800},{"s":16,"x":75,"y":1240},{"s":16,"x":100,"y":1600},{"s":16,"x":150,"y":2000},{"s":16,"x":200,"y":2280},{"s":16,"x":250,"y":2520},{"s":16,"x":300,"y":2720},{"s":16,"x":350,"y":2840},{"s":16,"x":400,"y":2920},{"s":16,"x":450,"y":3000},{"s":16,"x":500,"y":3096},
{"s":32,"x":0,"y":80},{"s":32,"x":25,"y":160},{"s":32,"x":50,"y":520},{"s":32,"x":75,"y":800},{"s":32,"x":100,"y":1080},{"s":32,"x":150,"y":1400},{"s":32,"x":200,"y":1600},{"s":32,"x":250,"y":1720},{"s":32,"x":300,"y":1840},{"s":32,"x":350,"y":1936},{"s":32,"x":400,"y":2040},{"s":32,"x":450,"y":2160},{"s":32,"x":500,"y":2184},
{"s":64,"x":0,"y":-40},{"s":64,"x":25,"y":80},{"s":64,"x":50,"y":200},{"s":64,"x":75,"y":304},{"s":64,"x":100,"y":360},{"s":64,"x":150,"y":480},{"s":64,"x":200,"y":576},{"s":64,"x":250,"y":680},{"s":64,"x":300,"y":704},{"s":64,"x":350,"y":736},{"s":64,"x":400,"y":784},{"s":64,"x":450,"y":816},{"s":64,"x":500,"y":840}
],
"k":[
{"s":-1,"x":0,"y":310},{"s":-1,"x":25,"y":610},{"s":-1,"x":50,"y":1260},{"s":-1,"x":75,"y":1930},{"s":-1,"x":100,"y":2360},{"s":-1,"x":150,"y":2850},{"s":-1,"x":200,"y":3246},{"s":-1,"x":250,"y":3450},{"s":-1,"x":300,"y":3611},{"s":-1,"x":350,"y":3740},{"s":-1,"x":400,"y":3854},{"s":-1,"x":450,"y":3990},{"s":-1,"x":500,"y":4138},
{"s":1,"x":0,"y":300},{"s":1,"x":25,"y":620},{"s":1,"x":50,"y":1300},{"s":1,"x":75,"y":1980},{"s":1,"x":100,"y":2420},{"s":1,"x":150,"y":2950},{"s":1,"x":200,"y":3327},{"s":1,"x":250,"y":3580},{"s":1,"x":300,"y":3773},{"s":1,"x":350,"y":3880},{"s":1,"x":400,"y":3976},{"s":1,"x":450,"y":4080},{"s":1,"x":500,"y":4178},
{"s":2,"x":0,"y":290},{"s":2,"x":25,"y":580},{"s":2,"x":50,"y":1200},{"s":2,"x":75,"y":1850},{"s":2,"x":100,"y":2260},{"s":2,"x":150,"y":2740},{"s":2,"x":200,"y":3124},{"s":2,"x":250,"y":3330},{"s":2,"x":300,"y":3530},{"s":2,"x":350,"y":3600},{"s":2,"x":400,"y":3692},{"s":2,"x":450,"y":3800},{"s":2,"x":500,"y":3895},
{"s":4,"x":0,"y":280},{"s":4,"x":25,"y":520},{"s":4,"x":50,"y":934},{"s":4,"x":75,"y":1650},{"s":4,"x":100,"y":2070},{"s":4,"x":150,"y":2638},{"s":4,"x":200,"y":3003},{"s":4,"x":250,"y":3250},{"s":4,"x":300,"y":3450},{"s":4,"x":350,"y":3580},{"s":4,"x":400,"y":3708},{"s":4,"x":450,"y":3820},{"s":4,"x":500,"y":3935},
{"s":8,"x":0,"y":300},{"s":8,"x":25,"y":600},{"s":8,"x":50,"y":1250},{"s":8,"x":75,"y":1900},{"s":8,"x":100,"y":2330},{"s":8,"x":150,"y":2800},{"s":8,"x":200,"y":3165},{"s":8,"x":250,"y":3370},{"s":8,"x":300,"y":3530},{"s":8,"x":350,"y":3650},{"s":8,"x":400,"y":3780},{"s":8,"x":450,"y":3900},{"s":8,"x":500,"y":4030},
{"s":16,"x":0,"y":310},{"s":16,"x":25,"y":620},{"s":16,"x":50,"y":1260},{"s":16,"x":75,"y":1900},{"s":16,"x":100,"y":2300},{"s":16,"x":150,"y":2760},{"s":16,"x":200,"y":3120},{"s":16,"x":250,"y":3330},{"s":16,"x":300,"y":3500},{"s":16,"x":350,"y":3620},{"s":16,"x":400,"y":3740},{"s":16,"x":450,"y":3850},{"s":16,"x":500,"y":3960},
{"s":32,"x":0,"y":300},{"s":32,"x":25,"y":600},{"s":32,"x":50,"y":1240},{"s":32,"x":75,"y":1890},{"s":32,"x":100,"y":2310},{"s":32,"x":150,"y":2780},{"s":32,"x":200,"y":3150},{"s":32,"x":250,"y":3350},{"s":32,"x":300,"y":3520},{"s":32,"x":350,"y":3640},{"s":32,"x":400,"y":3760},{"s":32,"x":450,"y":3880},{"s":32,"x":500,"y":3990},
{"s":64,"x":0,"y":330},{"s":64,"x":25,"y":680},{"s":64,"x":50,"y":1340},{"s":64,"x":75,"y":2000},{"s":64,"x":100,"y":2435},{"s":64,"x":150,"y":2850},{"s":64,"x":200,"y":3200},{"s":64,"x":250,"y":3380},{"s":64,"x":300,"y":3530},{"s":64,"x":350,"y":3660},{"s":64,"x":400,"y":3773},{"s":64,"x":450,"y":3900},{"s":64,"x":500,"y":4016}
],
"l":[
{"s":-1,"x":0,"y":0.025},{"s":-1,"x":25,"y":0.025},{"s":-1,"x":50,"y":0.02},{"s":-1,"x":75,"y":0.008},{"s":-1,"x":100,"y":0.003},{"s":-1,"x":500,"y":0},
{"s":1,"x":0,"y":0.155},{"s":1,"x":15,"y":0.15},{"s":1,"x":25,"y":0.165},{"s":1,"x":50,"y":0.16},{"s":1,"x":100,"y":0.155},{"s":1,"x":200,"y":0.155},{"s":1,"x":300,"y":0.15},{"s":1,"x":500,"y":0.15},
{"s":2,"x":0,"y":0.285},{"s":2,"x":15,"y":0.285},{"s":2,"x":30,"y":0.3},{"s":2,"x":50,"y":0.315},{"s":2,"x":100,"y":0.325},{"s":2,"x":150,"y":0.33},{"s":2,"x":200,"y":0.325},{"s":2,"x":250,"y":0.32},{"s":2,"x":300,"y":0.315},{"s":2,"x":400,"y":0.32},{"s":2,"x":500,"y":0.32},
{"s":4,"x":0,"y":0.45},{"s":4,"x":15,"y":0.44},{"s":4,"x":30,"y":0.47},{"s":4,"x":50,"y":0.5},{"s":4,"x":75,"y":0.54},{"s":4,"x":100,"y":0.545},{"s":4,"x":150,"y":0.55},{"s":4,"x":200,"y":0.555},{"s":4,"x":300,"y":0.55},{"s":4,"x":400,"y":0.555},{"s":4,"x":450,"y":0.565},{"s":4,"x":500,"y":0.555},
{"s":8,"x":0,"y":0.67},{"s":8,"x":15,"y":0.66},{"s":8,"x":30,"y":0.69},{"s":8,"x":50,"y":0.71},{"s":8,"x":75,"y":0.74},{"s":8,"x":100,"y":0.76},{"s":8,"x":150,"y":0.78},{"s":8,"x":200,"y":0.77},{"s":8,"x":300,"y":0.775},{"s":8,"x":400,"y":0.775},{"s":8,"x":450,"y":0.785},{"s":8,"x":500,"y":0.78},
{"s":16,"x":0,"y":0.79},{"s":16,"x":15,"y":0.77},{"s":16,"x":30,"y":0.82},{"s":16,"x":50,"y":0.86},{"s":16,"x":100,"y":0.875},{"s":16,"x":150,"y":0.895},{"s":16,"x":200,"y":0.905},{"s":16,"x":250,"y":0.895},{"s":16,"x":300,"y":0.91},{"s":16,"x":350,"y":0.895},{"s":16,"x":400,"y":0.9},{"s":16,"x":500,"y":0.905},
{"s":32,"x":0,"y":0.86},{"s":32,"x":15,"y":0.88},{"s":32,"x":35,"y":0.92},{"s":32,"x":50,"y":0.94},{"s":32,"x":100,"y":0.945},{"s":32,"x":150,"y":0.96},{"s":32,"x":300,"y":0.955},{"s":32,"x":400,"y":0.96},{"s":32,"x":500,"y":0.96},
{"s":64,"x":0,"y":0.92},{"s":64,"x":25,"y":0.94},{"s":64,"x":50,"y":0.965},{"s":64,"x":100,"y":0.975},{"s":64,"x":150,"y":0.98},{"s":64,"x":300,"y":0.985},{"s":64,"x":500,"y":0.985}
],
"m":[
{"s":-1,"x":0,"y":964},{"s":-1,"x":50,"y":1275},{"s":-1,"x":100,"y":1456},{"s":-1,"x":150,"y":1534},{"s":-1,"x":200,"y":1663},{"s":-1,"x":300,"y":1834},{"s":-1,"x":400,"y":1948},{"s":-1,"x":500,"y":2026},{"s":-1,"x":600,"y":2145},{"s":-1,"x":700,"y":2233},{"s":-1,"x":800,"y":2321},{"s":-1,"x":900,"y":2388},{"s":-1,"x":1000,"y":2430},
{"s":1,"x":0,"y":964},{"s":1,"x":50,"y":1250},{"s":1,"x":100,"y":1430},{"s":1,"x":150,"y":1530},{"s":1,"x":200,"y":1663},{"s":1,"x":300,"y":1844},{"s":1,"x":400,"y":1974},{"s":1,"x":500,"y":2077},{"s":1,"x":600,"y":2233},{"s":1,"x":700,"y":2311},{"s":1,"x":800,"y":2388},{"s":1,"x":900,"y":2476},{"s":1,"x":1000,"y":2518},
{"s":2,"x":0,"y":964,"l":940,"h":990},{"s":2,"x":50,"y":1223,"l":1180,"h":1265},{"s":2,"x":100,"y":1404,"l":1360,"h":1450},{"s":2,"x":150,"y":1520,"l":1460,"h":1580},{"s":2,"x":200,"y":1663,"l":1600,"h":1730},{"s":2,"x":300,"y":1922,"l":1800,"h":2050},{"s":2,"x":400,"y":2077,"l":1900,"h":2250},{"s":2,"x":500,"y":2233,"l":2030,"h":2430},{"s":2,"x":600,"y":2388,"l":2150,"h":2620},{"s":2,"x":700,"y":2570,"l":2300,"h":2830},{"s":2,"x":800,"y":2725,"l":2430,"h":3020},{"s":2,"x":900,"y":2880,"l":2560,"h":3200},{"s":2,"x":1000,"y":2984,"l":2650,"h":3300},
{"s":4,"x":0,"y":964,"l":940,"h":990},{"s":4,"x":50,"y":1223,"l":1180,"h":1270},{"s":4,"x":100,"y":1404,"l":1350,"h":1460},{"s":4,"x":150,"y":1530,"l":1460,"h":1600},{"s":4,"x":200,"y":1663,"l":1580,"h":1760},{"s":4,"x":300,"y":1974,"l":1820,"h":2150},{"s":4,"x":400,"y":2145,"l":1950,"h":2360},{"s":4,"x":500,"y":2285,"l":2050,"h":2520},{"s":4,"x":600,"y":2414,"l":2150,"h":2680},{"s":4,"x":700,"y":2580,"l":2300,"h":2860},{"s":4,"x":800,"y":2725,"l":2450,"h":3000},{"s":4,"x":900,"y":2854,"l":2550,"h":3150},{"s":4,"x":1000,"y":2943,"l":2600,"h":3300},
{"s":8,"x":0,"y":964,"l":940,"h":990},{"s":8,"x":50,"y":1119,"l":1080,"h":1160},{"s":8,"x":100,"y":1275,"l":1220,"h":1330},{"s":8,"x":150,"y":1378,"l":1310,"h":1450},{"s":8,"x":200,"y":1508,"l":1430,"h":1590},{"s":8,"x":300,"y":1793,"l":1700,"h":1890},{"s":8,"x":400,"y":1948,"l":1850,"h":2050},{"s":8,"x":500,"y":2077,"l":1970,"h":2180},{"s":8,"x":600,"y":2207,"l":2100,"h":2320},{"s":8,"x":700,"y":2300,"l":2190,"h":2410},{"s":8,"x":800,"y":2414,"l":2300,"h":2530},{"s":8,"x":900,"y":2544,"l":2410,"h":2670},{"s":8,"x":1000,"y":2580,"l":2450,"h":2720},
{"s":16,"x":0,"y":964,"l":940,"h":990},{"s":16,"x":50,"y":990,"l":960,"h":1020},{"s":16,"x":100,"y":1026,"l":990,"h":1065},{"s":16,"x":150,"y":1080,"l":1030,"h":1130},{"s":16,"x":200,"y":1145,"l":1080,"h":1210},{"s":16,"x":300,"y":1275,"l":1200,"h":1350},{"s":16,"x":400,"y":1404,"l":1320,"h":1490},{"s":16,"x":500,"y":1508,"l":1420,"h":1600},{"s":16,"x":600,"y":1663,"l":1570,"h":1760},{"s":16,"x":700,"y":1767,"l":1660,"h":1870},{"s":16,"x":800,"y":1870,"l":1760,"h":1980},{"s":16,"x":900,"y":2000,"l":1860,"h":2140},{"s":16,"x":1000,"y":2197,"l":1970,"h":2420},
{"s":32,"x":0,"y":938},{"s":32,"x":50,"y":935},{"s":32,"x":100,"y":935},{"s":32,"x":150,"y":936},{"s":32,"x":200,"y":938},{"s":32,"x":300,"y":940},{"s":32,"x":400,"y":953},{"s":32,"x":500,"y":1000},{"s":32,"x":600,"y":1016},{"s":32,"x":700,"y":1016},{"s":32,"x":800,"y":1026},{"s":32,"x":900,"y":1057},{"s":32,"x":1000,"y":1093},
{"s":64,"x":0,"y":938},{"s":64,"x":50,"y":935},{"s":64,"x":100,"y":935},{"s":64,"x":150,"y":936},{"s":64,"x":200,"y":938},{"s":64,"x":300,"y":927},{"s":64,"x":400,"y":912},{"s":64,"x":500,"y":927},{"s":64,"x":600,"y":902},{"s":64,"x":700,"y":902},{"s":64,"x":800,"y":886},{"s":64,"x":900,"y":850},{"s":64,"x":1000,"y":824}
],
"n":[
{"s":-1,"x":0,"y":990},{"s":-1,"x":25,"y":1079},{"s":-1,"x":50,"y":1241},{"s":-1,"x":100,"y":1430},{"s":-1,"x":150,"y":1520},{"s":-1,"x":200,"y":1611},{"s":-1,"x":250,"y":1590},{"s":-1,"x":300,"y":1681},{"s":-1,"x":400,"y":1866},{"s":-1,"x":500,"y":2028},{"s":-1,"x":600,"y":2167},{"s":-1,"x":700,"y":2306},{"s":-1,"x":800,"y":2306},{"s":-1,"x":900,"y":2329},{"s":-1,"x":1000,"y":2537},
{"s":1,"x":0,"y":990,"l":980,"h":1000},{"s":1,"x":25,"y":1079,"l":1060,"h":1100},{"s":1,"x":50,"y":1241,"l":1210,"h":1270},{"s":1,"x":100,"y":1449,"l":1410,"h":1490},{"s":1,"x":150,"y":1560,"l":1510,"h":1610},{"s":1,"x":200,"y":1680,"l":1630,"h":1730},{"s":1,"x":300,"y":1819,"l":1760,"h":1880},{"s":1,"x":400,"y":1982,"l":1910,"h":2050},{"s":1,"x":500,"y":2236,"l":2150,"h":2320},{"s":1,"x":600,"y":2306,"l":2200,"h":2420},{"s":1,"x":700,"y":2444,"l":2330,"h":2560},{"s":1,"x":800,"y":2537,"l":2400,"h":2680},{"s":1,"x":900,"y":2745,"l":2560,"h":2950},{"s":1,"x":1000,"y":3023,"l":2780,"h":3250},
{"s":2,"x":0,"y":990,"l":980,"h":1000},{"s":2,"x":25,"y":1079,"l":1060,"h":1100},{"s":2,"x":50,"y":1241,"l":1210,"h":1270},{"s":2,"x":100,"y":1440,"l":1400,"h":1480},{"s":2,"x":150,"y":1530,"l":1480,"h":1580},{"s":2,"x":200,"y":1620,"l":1560,"h":1680},{"s":2,"x":300,"y":1750,"l":1680,"h":1820},{"s":2,"x":400,"y":1866,"l":1780,"h":1950},{"s":2,"x":500,"y":2051,"l":1950,"h":2150},{"s":2,"x":600,"y":2213,"l":2080,"h":2340},{"s":2,"x":700,"y":2259,"l":2100,"h":2420},{"s":2,"x":800,"y":2236,"l":2060,"h":2410},{"s":2,"x":900,"y":2283,"l":2100,"h":2470},{"s":2,"x":1000,"y":2421,"l":2250,"h":2590},
{"s":4,"x":0,"y":990},{"s":4,"x":25,"y":1079},{"s":4,"x":50,"y":1241},{"s":4,"x":100,"y":1449},{"s":4,"x":150,"y":1540},{"s":4,"x":200,"y":1634},{"s":4,"x":300,"y":1760},{"s":4,"x":400,"y":1889},{"s":4,"x":500,"y":2000},{"s":4,"x":600,"y":2144},{"s":4,"x":700,"y":2236},{"s":4,"x":800,"y":2283},{"s":4,"x":900,"y":2352},{"s":4,"x":1000,"y":2491},
{"s":8,"x":0,"y":990,"l":980,"h":1000},{"s":8,"x":25,"y":1079,"l":1060,"h":1100},{"s":8,"x":50,"y":1241,"l":1210,"h":1270},{"s":8,"x":100,"y":1460,"l":1420,"h":1500},{"s":8,"x":150,"y":1580,"l":1530,"h":1630},{"s":8,"x":200,"y":1704,"l":1630,"h":1780},{"s":8,"x":300,"y":1889,"l":1790,"h":1990},{"s":8,"x":400,"y":2222,"l":2100,"h":2340},{"s":8,"x":500,"y":2343,"l":2220,"h":2460},{"s":8,"x":600,"y":2560,"l":2440,"h":2680},{"s":8,"x":620,"y":2639,"l":2520,"h":2760},{"s":8,"x":700,"y":2491,"l":2380,"h":2600},{"s":8,"x":750,"y":2468,"l":2360,"h":2580},{"s":8,"x":800,"y":2583,"l":2470,"h":2700},{"s":8,"x":900,"y":2630,"l":2500,"h":2760},{"s":8,"x":1000,"y":2722,"l":2600,"h":2850},
{"s":16,"x":0,"y":990},{"s":16,"x":25,"y":1079},{"s":16,"x":50,"y":1241},{"s":16,"x":100,"y":1449},{"s":16,"x":150,"y":1550},{"s":16,"x":200,"y":1660},{"s":16,"x":300,"y":1819},{"s":16,"x":400,"y":1935},{"s":16,"x":500,"y":2028},{"s":16,"x":600,"y":2213},{"s":16,"x":700,"y":2514},{"s":16,"x":800,"y":2583},{"s":16,"x":900,"y":2769},{"s":16,"x":1000,"y":2931},
{"s":32,"x":0,"y":990},{"s":32,"x":25,"y":1079},{"s":32,"x":50,"y":1260},{"s":32,"x":100,"y":1470},{"s":32,"x":150,"y":1570},{"s":32,"x":200,"y":1660},{"s":32,"x":300,"y":1800},{"s":32,"x":400,"y":1912},{"s":32,"x":500,"y":2040},{"s":32,"x":600,"y":2190},{"s":32,"x":700,"y":2310},{"s":32,"x":800,"y":2444},{"s":32,"x":900,"y":2537},{"s":32,"x":1000,"y":2676},
{"s":64,"x":0,"y":990},{"s":64,"x":25,"y":1079},{"s":64,"x":50,"y":1241},{"s":64,"x":100,"y":1449},{"s":64,"x":150,"y":1542},{"s":64,"x":200,"y":1634},{"s":64,"x":300,"y":1760},{"s":64,"x":400,"y":1889},{"s":64,"x":500,"y":2005},{"s":64,"x":600,"y":2144},{"s":64,"x":700,"y":2240},{"s":64,"x":800,"y":2352},{"s":64,"x":900,"y":2491},{"s":64,"x":1000,"y":2653}
],
"o":[
{"s":-1,"x":0,"y":0},{"s":-1,"x":300,"y":0.01},{"s":-1,"x":600,"y":0.005},{"s":-1,"x":1000,"y":0.008},
{"s":1,"x":0,"y":0.17},{"s":1,"x":30,"y":0.17},{"s":1,"x":40,"y":0.14},{"s":1,"x":150,"y":0.125},{"s":1,"x":300,"y":0.13},{"s":1,"x":500,"y":0.125},{"s":1,"x":700,"y":0.135},{"s":1,"x":800,"y":0.125},{"s":1,"x":1000,"y":0.12},
{"s":2,"x":0,"y":0.37},{"s":2,"x":30,"y":0.37},{"s":2,"x":60,"y":0.33},{"s":2,"x":150,"y":0.305},{"s":2,"x":300,"y":0.3},{"s":2,"x":400,"y":0.29},{"s":2,"x":500,"y":0.305},{"s":2,"x":700,"y":0.32},{"s":2,"x":800,"y":0.305},{"s":2,"x":1000,"y":0.295},
{"s":4,"x":0,"y":0.67},{"s":4,"x":30,"y":0.665},{"s":4,"x":100,"y":0.6},{"s":4,"x":200,"y":0.585},{"s":4,"x":300,"y":0.575},{"s":4,"x":400,"y":0.56},{"s":4,"x":450,"y":0.575},{"s":4,"x":600,"y":0.585},{"s":4,"x":800,"y":0.585},{"s":4,"x":1000,"y":0.575},
{"s":8,"x":0,"y":0.88},{"s":8,"x":50,"y":0.87},{"s":8,"x":100,"y":0.82},{"s":8,"x":200,"y":0.815},{"s":8,"x":400,"y":0.82},{"s":8,"x":600,"y":0.81},{"s":8,"x":800,"y":0.81},{"s":8,"x":1000,"y":0.8},
{"s":16,"x":0,"y":0.96},{"s":16,"x":100,"y":0.935},{"s":16,"x":200,"y":0.93},{"s":16,"x":400,"y":0.92},{"s":16,"x":600,"y":0.925},{"s":16,"x":800,"y":0.915},{"s":16,"x":1000,"y":0.925},
{"s":32,"x":0,"y":0.975},{"s":32,"x":200,"y":0.975},{"s":32,"x":400,"y":0.97},{"s":32,"x":600,"y":0.965},{"s":32,"x":800,"y":0.965},{"s":32,"x":1000,"y":0.965},
{"s":64,"x":0,"y":0.99},{"s":64,"x":500,"y":0.985},{"s":64,"x":1000,"y":0.99}
],
"p":[
{"s":-1,"x":0,"y":223,"l":190,"h":260},{"s":-1,"x":50,"y":382,"l":350,"h":420},{"s":-1,"x":100,"y":510,"l":460,"h":560},{"s":-1,"x":150,"y":648,"l":560,"h":750},{"s":-1,"x":200,"y":1020,"l":750,"h":1350},{"s":-1,"x":250,"y":1816,"l":1300,"h":2400},{"s":-1,"x":300,"y":2559,"l":1950,"h":3150},{"s":-1,"x":350,"y":3037,"l":2500,"h":3550},{"s":-1,"x":400,"y":3356,"l":2900,"h":3800},{"s":-1,"x":450,"y":3675,"l":3350,"h":4000},{"s":-1,"x":500,"y":4152,"l":3950,"h":4350},{"s":-1,"x":550,"y":4471,"l":4350,"h":4600},{"s":-1,"x":600,"y":4652,"l":4550,"h":4760},{"s":-1,"x":650,"y":4720,"l":4640,"h":4800},{"s":-1,"x":700,"y":4768,"l":4690,"h":4850},{"s":-1,"x":800,"y":4843,"l":4760,"h":4930},{"s":-1,"x":900,"y":5002,"l":4920,"h":5090},{"s":-1,"x":1000,"y":5087,"l":4990,"h":5180},
{"s":1,"x":0,"y":223},{"s":1,"x":50,"y":382},{"s":1,"x":100,"y":489},{"s":1,"x":150,"y":600},{"s":1,"x":200,"y":754},{"s":1,"x":250,"y":1285},{"s":1,"x":300,"y":2241},{"s":1,"x":350,"y":3303},{"s":1,"x":400,"y":4100},{"s":1,"x":450,"y":4312},{"s":1,"x":500,"y":4492},{"s":1,"x":550,"y":4683},{"s":1,"x":600,"y":4737},{"s":1,"x":650,"y":4737},{"s":1,"x":700,"y":4737},{"s":1,"x":800,"y":4949},{"s":1,"x":900,"y":5002},{"s":1,"x":1000,"y":5087},
{"s":2,"x":0,"y":223,"l":200,"h":246},{"s":2,"x":50,"y":382,"l":360,"h":404},{"s":2,"x":100,"y":489,"l":465,"h":513},{"s":2,"x":150,"y":600,"l":570,"h":630},{"s":2,"x":200,"y":701,"l":660,"h":740},{"s":2,"x":250,"y":820,"l":760,"h":880},{"s":2,"x":300,"y":966,"l":880,"h":1050},{"s":2,"x":350,"y":1179,"l":1000,"h":1400},{"s":2,"x":400,"y":1551,"l":1300,"h":1850},{"s":2,"x":450,"y":2241,"l":1900,"h":2600},{"s":2,"x":500,"y":3037,"l":2700,"h":3350},{"s":2,"x":550,"y":3621,"l":3350,"h":3850},{"s":2,"x":600,"y":3993,"l":3800,"h":4150},{"s":2,"x":650,"y":4420,"l":4300,"h":4550},{"s":2,"x":700,"y":4683,"l":4600,"h":4760},{"s":2,"x":800,"y":4917,"l":4850,"h":5000},{"s":2,"x":900,"y":5087,"l":5030,"h":5150},{"s":2,"x":1000,"y":5140,"l":5070,"h":5220},
{"s":4,"x":0,"y":170,"l":140,"h":200},{"s":4,"x":50,"y":300,"l":270,"h":330},{"s":4,"x":100,"y":435,"l":400,"h":470},{"s":4,"x":150,"y":520,"l":480,"h":560},{"s":4,"x":200,"y":595,"l":550,"h":640},{"s":4,"x":250,"y":720,"l":660,"h":780},{"s":4,"x":300,"y":860,"l":760,"h":1000},{"s":4,"x":350,"y":1179,"l":950,"h":1450},{"s":4,"x":400,"y":1604,"l":1300,"h":1950},{"s":4,"x":450,"y":2347,"l":2000,"h":2700},{"s":4,"x":500,"y":2931,"l":2600,"h":3250},{"s":4,"x":550,"y":3462,"l":3150,"h":3750},{"s":4,"x":600,"y":3834,"l":3600,"h":4050},{"s":4,"x":650,"y":4046,"l":3850,"h":4250},{"s":4,"x":700,"y":4259,"l":4100,"h":4450},{"s":4,"x":800,"y":4524,"l":4400,"h":4650},{"s":4,"x":900,"y":4737,"l":4620,"h":4850},{"s":4,"x":1000,"y":4768,"l":4640,"h":4890},
{"s":8,"x":0,"y":223,"l":200,"h":246},{"s":8,"x":50,"y":382,"l":360,"h":404},{"s":8,"x":100,"y":489,"l":465,"h":513},{"s":8,"x":200,"y":541,"l":515,"h":567},{"s":8,"x":300,"y":595,"l":565,"h":625},{"s":8,"x":400,"y":648,"l":615,"h":680},{"s":8,"x":500,"y":680,"l":640,"h":720},{"s":8,"x":600,"y":754,"l":700,"h":820},{"s":8,"x":650,"y":839,"l":760,"h":920},{"s":8,"x":700,"y":1020,"l":900,"h":1150},{"s":8,"x":750,"y":1232,"l":1050,"h":1450},{"s":8,"x":800,"y":1497,"l":1250,"h":1800},{"s":8,"x":850,"y":1763,"l":1450,"h":2150},{"s":8,"x":900,"y":1975,"l":1600,"h":2450},{"s":8,"x":1000,"y":2188,"l":1600,"h":2770},
{"s":16,"x":0,"y":200},{"s":16,"x":50,"y":420},{"s":16,"x":100,"y":460},{"s":16,"x":200,"y":475},{"s":16,"x":300,"y":485},{"s":16,"x":400,"y":495},{"s":16,"x":500,"y":500},{"s":16,"x":600,"y":510},{"s":16,"x":700,"y":515},{"s":16,"x":800,"y":525},{"s":16,"x":900,"y":530},{"s":16,"x":1000,"y":541},
{"s":32,"x":0,"y":117},{"s":32,"x":50,"y":330},{"s":32,"x":100,"y":382},{"s":32,"x":200,"y":390},{"s":32,"x":400,"y":395},{"s":32,"x":600,"y":400},{"s":32,"x":800,"y":405},{"s":32,"x":1000,"y":414},
{"s":64,"x":0,"y":64},{"s":64,"x":100,"y":170},{"s":64,"x":200,"y":244},{"s":64,"x":300,"y":280},{"s":64,"x":400,"y":297},{"s":64,"x":600,"y":329},{"s":64,"x":800,"y":340},{"s":64,"x":1000,"y":350}
],
"q":[
{"s":-1,"x":0,"y":308},{"s":-1,"x":50,"y":473},{"s":-1,"x":100,"y":549},{"s":-1,"x":150,"y":692},{"s":-1,"x":200,"y":900},{"s":-1,"x":250,"y":1300},{"s":-1,"x":300,"y":2066},{"s":-1,"x":350,"y":2700},{"s":-1,"x":400,"y":3220},{"s":-1,"x":450,"y":3600},{"s":-1,"x":500,"y":3879},{"s":-1,"x":600,"y":4374},{"s":-1,"x":700,"y":4594},{"s":-1,"x":800,"y":4814},{"s":-1,"x":900,"y":4900},{"s":-1,"x":1000,"y":5033},
{"s":1,"x":0,"y":308},{"s":1,"x":50,"y":473},{"s":1,"x":100,"y":549},{"s":1,"x":150,"y":700},{"s":1,"x":200,"y":950},{"s":1,"x":250,"y":1500},{"s":1,"x":300,"y":2506},{"s":1,"x":350,"y":3330},{"s":1,"x":400,"y":4044},{"s":1,"x":450,"y":4484},{"s":1,"x":500,"y":4539},{"s":1,"x":600,"y":4594},{"s":1,"x":700,"y":4700},{"s":1,"x":800,"y":4800},{"s":1,"x":900,"y":4900},{"s":1,"x":1000,"y":5033},
{"s":2,"x":0,"y":308,"l":290,"h":326},{"s":2,"x":50,"y":473,"l":450,"h":496},{"s":2,"x":100,"y":549,"l":525,"h":573},{"s":2,"x":150,"y":680,"l":640,"h":720},{"s":2,"x":200,"y":860,"l":790,"h":930},{"s":2,"x":250,"y":1150,"l":1000,"h":1300},{"s":2,"x":300,"y":1626,"l":1350,"h":1950},{"s":2,"x":350,"y":2200,"l":1850,"h":2550},{"s":2,"x":400,"y":2725,"l":2350,"h":3100},{"s":2,"x":450,"y":3250,"l":2900,"h":3600},{"s":2,"x":500,"y":3714,"l":3400,"h":4050},{"s":2,"x":600,"y":4319,"l":4100,"h":4500},{"s":2,"x":700,"y":4594,"l":4400,"h":4750},{"s":2,"x":800,"y":4868,"l":4650,"h":5050},{"s":2,"x":900,"y":5143,"l":4900,"h":5350},{"s":2,"x":1000,"y":5363,"l":5100,"h":5600},
{"s":4,"x":0,"y":308},{"s":4,"x":50,"y":473},{"s":4,"x":100,"y":549},{"s":4,"x":150,"y":692},{"s":4,"x":200,"y":900},{"s":4,"x":250,"y":1330},{"s":4,"x":300,"y":1956},{"s":4,"x":350,"y":2700},{"s":4,"x":400,"y":3450},{"s":4,"x":450,"y":3950},{"s":4,"x":500,"y":4209},{"s":4,"x":600,"y":4429},{"s":4,"x":700,"y":4539},{"s":4,"x":800,"y":4594},{"s":4,"x":900,"y":4594},{"s":4,"x":1000,"y":4671},
{"s":8,"x":0,"y":308},{"s":8,"x":50,"y":473},{"s":8,"x":100,"y":549},{"s":8,"x":150,"y":692},{"s":8,"x":200,"y":912},{"s":8,"x":250,"y":1350},{"s":8,"x":300,"y":2000},{"s":8,"x":350,"y":2750},{"s":8,"x":400,"y":3400},{"s":8,"x":450,"y":3900},{"s":8,"x":500,"y":4150},{"s":8,"x":600,"y":4484},{"s":8,"x":700,"y":4923},{"s":8,"x":800,"y":4978},{"s":8,"x":900,"y":5198},{"s":8,"x":1000,"y":5088},
{"s":16,"x":0,"y":308},{"s":16,"x":50,"y":473},{"s":16,"x":100,"y":549},{"s":16,"x":150,"y":700},{"s":16,"x":200,"y":960},{"s":16,"x":250,"y":1500},{"s":16,"x":300,"y":2400},{"s":16,"x":350,"y":3050},{"s":16,"x":400,"y":3650},{"s":16,"x":450,"y":4050},{"s":16,"x":500,"y":4250},{"s":16,"x":600,"y":4480},{"s":16,"x":700,"y":4620},{"s":16,"x":800,"y":4750},{"s":16,"x":900,"y":4880},{"s":16,"x":1000,"y":4978},
{"s":32,"x":0,"y":308},{"s":32,"x":50,"y":473},{"s":32,"x":100,"y":549},{"s":32,"x":150,"y":695},{"s":32,"x":200,"y":930},{"s":32,"x":250,"y":1400},{"s":32,"x":300,"y":2200},{"s":32,"x":350,"y":2900},{"s":32,"x":400,"y":3500},{"s":32,"x":450,"y":3950},{"s":32,"x":500,"y":4200},{"s":32,"x":600,"y":4450},{"s":32,"x":700,"y":4600},{"s":32,"x":800,"y":4700},{"s":32,"x":900,"y":4780},{"s":32,"x":1000,"y":4868},
{"s":64,"x":0,"y":308,"l":290,"h":326},{"s":64,"x":50,"y":473,"l":450,"h":496},{"s":64,"x":100,"y":549,"l":525,"h":573},{"s":64,"x":150,"y":710,"l":670,"h":750},{"s":64,"x":200,"y":980,"l":880,"h":1080},{"s":64,"x":250,"y":1550,"l":1250,"h":1900},{"s":64,"x":300,"y":2450,"l":2100,"h":2800},{"s":64,"x":350,"y":3100,"l":2750,"h":3450},{"s":64,"x":400,"y":3700,"l":3350,"h":4050},{"s":64,"x":450,"y":4100,"l":3850,"h":4350},{"s":64,"x":500,"y":4250,"l":4050,"h":4450},{"s":64,"x":600,"y":4500,"l":4300,"h":4700},{"s":64,"x":700,"y":4620,"l":4450,"h":4800},{"s":64,"x":800,"y":4704,"l":4550,"h":4850},{"s":64,"x":900,"y":4820,"l":4650,"h":4980},{"s":64,"x":1000,"y":4923,"l":4750,"h":5100}
],
"r":[
{"s":-1,"x":0,"y":0.025},{"s":-1,"x":200,"y":0.02},{"s":-1,"x":400,"y":0.01},{"s":-1,"x":600,"y":0.008},{"s":-1,"x":800,"y":0.003},{"s":-1,"x":1000,"y":0.003},
{"s":1,"x":0,"y":0.515},{"s":1,"x":50,"y":0.545},{"s":1,"x":100,"y":0.54},{"s":1,"x":150,"y":0.48},{"s":1,"x":200,"y":0.38},{"s":1,"x":250,"y":0.29},{"s":1,"x":300,"y":0.22},{"s":1,"x":350,"y":0.17},{"s":1,"x":400,"y":0.155},{"s":1,"x":500,"y":0.145},{"s":1,"x":600,"y":0.14},{"s":1,"x":800,"y":0.13},{"s":1,"x":1000,"y":0.135},
{"s":2,"x":0,"y":0.71},{"s":2,"x":50,"y":0.735},{"s":2,"x":100,"y":0.725},{"s":2,"x":150,"y":0.69},{"s":2,"x":200,"y":0.63},{"s":2,"x":250,"y":0.56},{"s":2,"x":300,"y":0.48},{"s":2,"x":350,"y":0.42},{"s":2,"x":400,"y":0.37},{"s":2,"x":450,"y":0.34},{"s":2,"x":500,"y":0.315},{"s":2,"x":600,"y":0.295},{"s":2,"x":700,"y":0.295},{"s":2,"x":800,"y":0.29},{"s":2,"x":900,"y":0.295},{"s":2,"x":1000,"y":0.285},
{"s":4,"x":0,"y":0.85},{"s":4,"x":50,"y":0.875},{"s":4,"x":100,"y":0.865},{"s":4,"x":150,"y":0.84},{"s":4,"x":200,"y":0.8},{"s":4,"x":250,"y":0.74},{"s":4,"x":300,"y":0.7},{"s":4,"x":400,"y":0.655},{"s":4,"x":450,"y":0.635},{"s":4,"x":500,"y":0.61},{"s":4,"x":600,"y":0.6},{"s":4,"x":700,"y":0.59},{"s":4,"x":800,"y":0.585},{"s":4,"x":900,"y":0.59},{"s":4,"x":1000,"y":0.59},
{"s":8,"x":0,"y":0.935},{"s":8,"x":50,"y":0.945},{"s":8,"x":100,"y":0.94},{"s":8,"x":200,"y":0.92},{"s":8,"x":300,"y":0.9},{"s":8,"x":400,"y":0.88},{"s":8,"x":500,"y":0.865},{"s":8,"x":600,"y":0.86},{"s":8,"x":800,"y":0.855},{"s":8,"x":1000,"y":0.85},
{"s":16,"x":0,"y":0.97},{"s":16,"x":100,"y":0.97},{"s":16,"x":200,"y":0.965},{"s":16,"x":400,"y":0.955},{"s":16,"x":600,"y":0.955},{"s":16,"x":1000,"y":0.955},
{"s":32,"x":0,"y":0.985},{"s":32,"x":200,"y":0.98},{"s":32,"x":500,"y":0.98},{"s":32,"x":1000,"y":0.98},
{"s":64,"x":0,"y":0.995},{"s":64,"x":500,"y":0.99},{"s":64,"x":1000,"y":0.99}
]
},
"concat":[
 {"width":282,"height":185,"data":{"name":"a"},"title":"(a) TRPO on Swimmer","encoding":{"x":{"field":"x","type":"quantitative","scale":{"domain":[-10,210]},"axis":{"values":[0,50,100,150,200]},"title":"iterations"},"color":{"field":"s","type":"nominal","scale":{"domain":[-1,1,2,4,8,16,32,64]},"legend":null}},
  "layer":[{"transform":[{"filter":"isValid(datum.l)"}],"mark":"area","encoding":{"y":{"field":"l","type":"quantitative","scale":{"domain":[-9,359]},"axis":{"values":[0,100,200,300]},"title":"Rewards"},"y2":{"field":"h"}}},{"mark":"line","encoding":{"y":{"field":"y","type":"quantitative","scale":{"domain":[-9,359]},"axis":{"values":[0,100,200,300]},"title":"Rewards"}}}]},
 {"width":284,"height":185,"data":{"name":"b"},"title":"(b) FPG on Swimmer","mark":"line","encoding":{"x":{"field":"x","type":"quantitative","scale":{"domain":[-10,210]},"axis":{"values":[0,50,100,150,200]},"title":"iterations"},"y":{"field":"y","type":"quantitative","scale":{"domain":[58,363]},"axis":{"values":[100,150,200,250,300,350]},"title":"Rewards"},"color":{"field":"s","type":"nominal","scale":{"domain":[-1,1,2,4,8,16,32,64]},"legend":null}}},
 {"width":274,"height":185,"data":{"name":"c"},"title":"(c) Detection Ratio on Swimmer","mark":"line","encoding":{"x":{"field":"x","type":"quantitative","scale":{"domain":[-10,210]},"axis":{"values":[0,50,100,150,200]},"title":"iterations"},"y":{"field":"y","type":"quantitative","scale":{"domain":[-0.058,1.048]},"axis":{"values":[0,0.2,0.4,0.6,0.8,1],"format":".1f","minExtent":30,"maxExtent":30},"title":"detection Ratio"},"color":{"field":"s","type":"nominal","scale":{"domain":[-1,1,2,4,8,16,32,64]},"legend":{"title":null,"orient":"none","legendX":293,"legendY":8,"labelExpr":"datum.value == -1 ? 'δ = −1' : 'δ = ' + datum.value"}}}},
 {"width":282,"height":181,"data":{"name":"d"},"title":"(d) TRPO on Hopper","encoding":{"x":{"field":"x","type":"quantitative","scale":{"domain":[-10,210]},"axis":{"values":[0,50,100,150,200]},"title":"iterations"},"color":{"field":"s","type":"nominal","scale":{"domain":[-1,1,2,4,8,16,32,64]},"legend":null}},
  "layer":[{"transform":[{"filter":"isValid(datum.l)"}],"mark":"area","encoding":{"y":{"field":"l","type":"quantitative","scale":{"domain":[-61,3303]},"axis":{"values":[0,500,1000,1500,2000,2500,3000]},"title":"Rewards"},"y2":{"field":"h"}}},{"mark":"line","encoding":{"y":{"field":"y","type":"quantitative","scale":{"domain":[-61,3303]},"axis":{"values":[0,500,1000,1500,2000,2500,3000]},"title":"Rewards"}}}]},
 {"width":284,"height":181,"data":{"name":"e"},"title":"(e) FPG on Hopper","mark":"line","encoding":{"x":{"field":"x","type":"quantitative","scale":{"domain":[-10,210]},"axis":{"values":[0,50,100,150,200]},"title":"iterations"},"y":{"field":"y","type":"quantitative","scale":{"domain":[225,3282]},"axis":{"values":[500,1000,1500,2000,2500,3000]},"title":"Rewards"},"color":{"field":"s","type":"nominal","scale":{"domain":[-1,1,2,4,8,16,32,64]},"legend":null}}},
 {"width":274,"height":181,"data":{"name":"f"},"title":"(f) Detection Ratio on Hopper","mark":"line","encoding":{"x":{"field":"x","type":"quantitative","scale":{"domain":[-10,210]},"axis":{"values":[0,50,100,150,200]},"title":"iterations"},"y":{"field":"y","type":"quantitative","scale":{"domain":[-0.05,1.053]},"axis":{"values":[0,0.2,0.4,0.6,0.8,1],"format":".1f","minExtent":30,"maxExtent":30},"title":"detection Ratio"},"color":{"field":"s","type":"nominal","scale":{"domain":[-1,1,2,4,8,16,32,64]},"legend":{"title":null,"orient":"none","legendX":293,"legendY":7,"labelExpr":"datum.value == -1 ? 'δ = −1' : 'δ = ' + datum.value"}}}},
 {"width":282,"height":180,"data":{"name":"g"},"title":"(g) TRPO on Walker2d","encoding":{"x":{"field":"x","type":"quantitative","scale":{"domain":[-25,525]},"axis":{"values":[0,100,200,300,400,500]},"title":"iterations"},"color":{"field":"s","type":"nominal","scale":{"domain":[-1,1,2,4,8,16,32,64]},"legend":null}},
  "layer":[{"transform":[{"filter":"isValid(datum.l)"}],"mark":"area","encoding":{"y":{"field":"l","type":"quantitative","scale":{"domain":[-147,4489]},"axis":{"values":[0,1000,2000,3000,4000]},"title":"Rewards"},"y2":{"field":"h"}}},{"mark":"line","encoding":{"y":{"field":"y","type":"quantitative","scale":{"domain":[-147,4489]},"axis":{"values":[0,1000,2000,3000,4000]},"title":"Rewards"}}}]},
 {"width":284,"height":180,"data":{"name":"h"},"title":"(h) FPG on Walker2d","mark":"line","encoding":{"x":{"field":"x","type":"quantitative","scale":{"domain":[-25,525]},"axis":{"values":[0,100,200,300,400,500]},"title":"iterations"},"y":{"field":"y","type":"quantitative","scale":{"domain":[60,4183]},"axis":{"values":[1000,2000,3000,4000]},"title":"Rewards"},"color":{"field":"s","type":"nominal","scale":{"domain":[-1,1,2,4,8,16,32,64]},"legend":null}}},
 {"width":274,"height":180,"data":{"name":"i"},"title":"(i) Detection Ratio on Walker2d","mark":"line","encoding":{"x":{"field":"x","type":"quantitative","scale":{"domain":[-25,525]},"axis":{"values":[0,100,200,300,400,500]},"title":"iterations"},"y":{"field":"y","type":"quantitative","scale":{"domain":[-0.049,1.047]},"axis":{"values":[0,0.2,0.4,0.6,0.8,1],"format":".1f","minExtent":30,"maxExtent":30},"title":"detection Ratio"},"color":{"field":"s","type":"nominal","scale":{"domain":[-1,1,2,4,8,16,32,64]},"legend":{"title":null,"orient":"none","legendX":293,"legendY":7,"labelExpr":"datum.value == -1 ? 'δ = −1' : 'δ = ' + datum.value"}}}},
 {"width":282,"height":181,"data":{"name":"j"},"title":"(j) TRPO on HalfCheetah","mark":"line","encoding":{"x":{"field":"x","type":"quantitative","scale":{"domain":[-25,525]},"axis":{"values":[0,100,200,300,400,500]},"title":"iterations"},"y":{"field":"y","type":"quantitative","scale":{"domain":[-233,4113]},"axis":{"values":[0,1000,2000,3000,4000]},"title":"Rewards"},"color":{"field":"s","type":"nominal","scale":{"domain":[-1,1,2,4,8,16,32,64]},"legend":null}}},
 {"width":284,"height":181,"data":{"name":"k"},"title":"(k) FPG on HalfCheetah","mark":"line","encoding":{"x":{"field":"x","type":"quantitative","scale":{"domain":[-25,525]},"axis":{"values":[0,100,200,300,400,500]},"title":"iterations"},"y":{"field":"y","type":"quantitative","scale":{"domain":[51,4455]},"axis":{"values":[1000,2000,3000,4000]},"title":"Rewards"},"color":{"field":"s","type":"nominal","scale":{"domain":[-1,1,2,4,8,16,32,64]},"legend":null}}},
 {"width":274,"height":181,"data":{"name":"l"},"title":"(l) Detection Ratio on HalfCheetah","mark":"line","encoding":{"x":{"field":"x","type":"quantitative","scale":{"domain":[-25,525]},"axis":{"values":[0,100,200,300,400,500]},"title":"iterations"},"y":{"field":"y","type":"quantitative","scale":{"domain":[-0.053,1.044]},"axis":{"values":[0,0.2,0.4,0.6,0.8,1],"format":".1f","minExtent":30,"maxExtent":30},"title":"detection Ratio"},"color":{"field":"s","type":"nominal","scale":{"domain":[-1,1,2,4,8,16,32,64]},"legend":{"title":null,"orient":"none","legendX":293,"legendY":7,"labelExpr":"datum.value == -1 ? 'δ = −1' : 'δ = ' + datum.value"}}}},
 {"width":282,"height":179,"data":{"name":"m"},"title":"(m) TRPO on Ant","encoding":{"x":{"field":"x","type":"quantitative","scale":{"domain":[-50,1050]},"axis":{"values":[0,200,400,600,800,1000]},"title":"iterations"},"color":{"field":"s","type":"nominal","scale":{"domain":[-1,1,2,4,8,16,32,64]},"legend":null}},
  "layer":[{"transform":[{"filter":"isValid(datum.l)"}],"mark":"area","encoding":{"y":{"field":"l","type":"quantitative","scale":{"domain":[649,3417]},"axis":{"values":[1000,1500,2000,2500,3000]},"title":"Rewards"},"y2":{"field":"h"}}},{"mark":"line","encoding":{"y":{"field":"y","type":"quantitative","scale":{"domain":[649,3417]},"axis":{"values":[1000,1500,2000,2500,3000]},"title":"Rewards"}}}]},
 {"width":284,"height":179,"data":{"name":"n"},"title":"(n) FPG on Ant","encoding":{"x":{"field":"x","type":"quantitative","scale":{"domain":[-50,1050]},"axis":{"values":[0,200,400,600,800,1000]},"title":"iterations"},"color":{"field":"s","type":"nominal","scale":{"domain":[-1,1,2,4,8,16,32,64]},"legend":null}},
  "layer":[{"transform":[{"filter":"isValid(datum.l)"}],"mark":"area","encoding":{"y":{"field":"l","type":"quantitative","scale":{"domain":[871,3346]},"axis":{"values":[1000,1500,2000,2500,3000]},"title":"Rewards"},"y2":{"field":"h"}}},{"mark":"line","encoding":{"y":{"field":"y","type":"quantitative","scale":{"domain":[871,3346]},"axis":{"values":[1000,1500,2000,2500,3000]},"title":"Rewards"}}}]},
 {"width":274,"height":179,"data":{"name":"o"},"title":"(o) Detection Ratio on Ant","mark":"line","encoding":{"x":{"field":"x","type":"quantitative","scale":{"domain":[-50,1050]},"axis":{"values":[0,200,400,600,800,1000]},"title":"iterations"},"y":{"field":"y","type":"quantitative","scale":{"domain":[-0.047,1.041]},"axis":{"values":[0,0.2,0.4,0.6,0.8,1],"format":".1f","minExtent":30,"maxExtent":30},"title":"detection Ratio"},"color":{"field":"s","type":"nominal","scale":{"domain":[-1,1,2,4,8,16,32,64]},"legend":{"title":null,"orient":"none","legendX":293,"legendY":7,"labelExpr":"datum.value == -1 ? 'δ = −1' : 'δ = ' + datum.value"}}}},
 {"width":282,"height":179,"data":{"name":"p"},"title":"(p) TRPO on Humanoid","encoding":{"x":{"field":"x","type":"quantitative","scale":{"domain":[-50,1050]},"axis":{"values":[0,200,400,600,800,1000]},"title":"iterations"},"color":{"field":"s","type":"nominal","scale":{"domain":[-1,1,2,4,8,16,32,64]},"legend":null}},
  "layer":[{"transform":[{"filter":"isValid(datum.l)"}],"mark":"area","encoding":{"y":{"field":"l","type":"quantitative","scale":{"domain":[-150,5565]},"axis":{"values":[0,1000,2000,3000,4000,5000]},"title":"Rewards"},"y2":{"field":"h"}}},{"mark":"line","encoding":{"y":{"field":"y","type":"quantitative","scale":{"domain":[-150,5565]},"axis":{"values":[0,1000,2000,3000,4000,5000]},"title":"Rewards"}}}]},
 {"width":284,"height":179,"data":{"name":"q"},"title":"(q) FPG on Humanoid","encoding":{"x":{"field":"x","type":"quantitative","scale":{"domain":[-50,1050]},"axis":{"values":[0,200,400,600,800,1000]},"title":"iterations"},"color":{"field":"s","type":"nominal","scale":{"domain":[-1,1,2,4,8,16,32,64]},"legend":null}},
  "layer":[{"transform":[{"filter":"isValid(datum.l)"}],"mark":"area","encoding":{"y":{"field":"l","type":"quantitative","scale":{"domain":[11,5913]},"axis":{"values":[1000,2000,3000,4000,5000]},"title":"Rewards"},"y2":{"field":"h"}}},{"mark":"line","encoding":{"y":{"field":"y","type":"quantitative","scale":{"domain":[11,5913]},"axis":{"values":[1000,2000,3000,4000,5000]},"title":"Rewards"}}}]},
 {"width":274,"height":179,"data":{"name":"r"},"title":"(r) Detection Ratio on Humanoid","mark":"line","encoding":{"x":{"field":"x","type":"quantitative","scale":{"domain":[-50,1050]},"axis":{"values":[0,200,400,600,800,1000]},"title":"iterations"},"y":{"field":"y","type":"quantitative","scale":{"domain":[-0.044,1.044]},"axis":{"values":[0,0.2,0.4,0.6,0.8,1],"format":".1f","minExtent":30,"maxExtent":30},"title":"detection Ratio"},"color":{"field":"s","type":"nominal","scale":{"domain":[-1,1,2,4,8,16,32,64]},"legend":{"title":null,"orient":"none","legendX":293,"legendY":7,"labelExpr":"datum.value == -1 ? 'δ = −1' : 'δ = ' + datum.value"}}}}
]
}
